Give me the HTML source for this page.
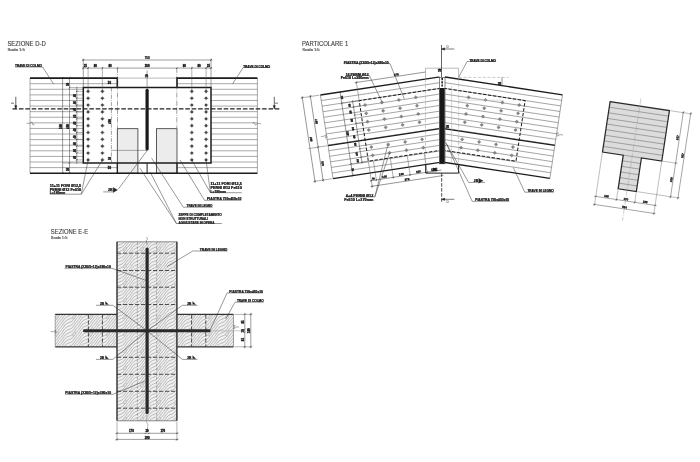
<!DOCTYPE html>
<html lang="it"><head><meta charset="utf-8"><title>Particolari costruttivi - Sezione D-D, Sezione E-E, Particolare 1</title>
<style>
html,body{margin:0;padding:0;background:#fff;}
body{width:700px;height:462px;overflow:hidden;font-family:"Liberation Sans",sans-serif;}
svg{display:block;filter:blur(0.45px);}
svg text{font-family:"Liberation Sans",sans-serif;}
</style></head><body>
<svg width="700" height="462" viewBox="0 0 700 462">
<defs>
<pattern id="wood" width="17" height="17" patternUnits="userSpaceOnUse" patternTransform="translate(1,3)">
<rect width="17" height="17" fill="#f0f0f0"/>
<g fill="none" stroke="#959595" stroke-width="0.62">
<path d="M0,-6.800 C5,-8.300 5,-11.800 8.5,-15.300 S12,-22.300 17,-23.800"/>
<path d="M0,-3.400 C5,-4.900 5,-8.400 8.5,-11.900 S12,-18.900 17,-20.400"/>
<path d="M0,0.000 C5,-1.500 5,-5.000 8.5,-8.500 S12,-15.500 17,-17.000"/>
<path d="M0,3.400 C5,1.900 5,-1.600 8.5,-5.100 S12,-12.100 17,-13.600"/>
<path d="M0,6.800 C5,5.300 5,1.800 8.5,-1.700 S12,-8.700 17,-10.200"/>
<path d="M0,10.200 C5,8.700 5,5.200 8.5,1.700 S12,-5.300 17,-6.800"/>
<path d="M0,13.600 C5,12.100 5,8.600 8.5,5.100 S12,-1.900 17,-3.400"/>
<path d="M0,17.000 C5,15.500 5,12.000 8.5,8.500 S12,1.500 17,0.000"/>
<path d="M0,20.400 C5,18.900 5,15.400 8.5,11.900 S12,4.900 17,3.400"/>
<path d="M0,23.800 C5,22.300 5,18.800 8.5,15.300 S12,8.300 17,6.800"/>
<path d="M0,27.200 C5,25.700 5,22.200 8.5,18.700 S12,11.700 17,10.200"/>
<path d="M0,30.600 C5,29.100 5,25.600 8.5,22.100 S12,15.100 17,13.600"/>
<path d="M0,34.000 C5,32.500 5,29.000 8.5,25.500 S12,18.500 17,17.000"/>
<path d="M0,37.400 C5,35.900 5,32.400 8.5,28.900 S12,21.900 17,20.400"/>
<path d="M0,40.800 C5,39.300 5,35.800 8.5,32.300 S12,25.300 17,23.800"/>
</g>
<ellipse cx="5" cy="8" rx="1.3" ry="2.4" transform="rotate(35 5 8)" fill="#dcdcdc" stroke="#aaa" stroke-width="0.4"/>
</pattern>
</defs>
<rect width="700" height="462" fill="#fff"/>

<g id="sezione-dd">
<text transform="translate(7.40,45.60) scale(0.1)" font-size="64.0" text-anchor="start" font-weight="normal" fill="#3c3c3c" stroke="#3c3c3c" stroke-width="1.2" textLength="384.0" lengthAdjust="spacingAndGlyphs">SEZIONE D-D</text>
<text transform="translate(7.40,51.30) scale(0.1)" font-size="41.0" text-anchor="start" font-weight="normal" fill="#444" stroke="#444" stroke-width="1.6" textLength="174.0" lengthAdjust="spacingAndGlyphs">Scala 1:5</text>
<line x1="30.00" y1="83.69" x2="117.30" y2="83.69" stroke="#555" stroke-width="0.5" />
<line x1="177.00" y1="83.69" x2="257.40" y2="83.69" stroke="#555" stroke-width="0.5" />
<line x1="30.00" y1="89.29" x2="83.30" y2="89.29" stroke="#555" stroke-width="0.5" />
<line x1="211.00" y1="89.29" x2="257.40" y2="89.29" stroke="#555" stroke-width="0.5" />
<line x1="30.00" y1="94.88" x2="83.30" y2="94.88" stroke="#555" stroke-width="0.5" />
<line x1="211.00" y1="94.88" x2="257.40" y2="94.88" stroke="#555" stroke-width="0.5" />
<line x1="30.00" y1="100.48" x2="83.30" y2="100.48" stroke="#555" stroke-width="0.5" />
<line x1="211.00" y1="100.48" x2="257.40" y2="100.48" stroke="#555" stroke-width="0.5" />
<line x1="30.00" y1="106.07" x2="83.30" y2="106.07" stroke="#555" stroke-width="0.5" />
<line x1="211.00" y1="106.07" x2="257.40" y2="106.07" stroke="#555" stroke-width="0.5" />
<line x1="30.00" y1="111.66" x2="83.30" y2="111.66" stroke="#555" stroke-width="0.5" />
<line x1="211.00" y1="111.66" x2="257.40" y2="111.66" stroke="#555" stroke-width="0.5" />
<line x1="30.00" y1="117.26" x2="83.30" y2="117.26" stroke="#555" stroke-width="0.5" />
<line x1="211.00" y1="117.26" x2="257.40" y2="117.26" stroke="#555" stroke-width="0.5" />
<line x1="30.00" y1="122.85" x2="83.30" y2="122.85" stroke="#555" stroke-width="0.5" />
<line x1="211.00" y1="122.85" x2="257.40" y2="122.85" stroke="#555" stroke-width="0.5" />
<line x1="30.00" y1="128.45" x2="83.30" y2="128.45" stroke="#555" stroke-width="0.5" />
<line x1="211.00" y1="128.45" x2="257.40" y2="128.45" stroke="#555" stroke-width="0.5" />
<line x1="30.00" y1="134.04" x2="83.30" y2="134.04" stroke="#555" stroke-width="0.5" />
<line x1="211.00" y1="134.04" x2="257.40" y2="134.04" stroke="#555" stroke-width="0.5" />
<line x1="30.00" y1="139.64" x2="83.30" y2="139.64" stroke="#555" stroke-width="0.5" />
<line x1="211.00" y1="139.64" x2="257.40" y2="139.64" stroke="#555" stroke-width="0.5" />
<line x1="30.00" y1="145.23" x2="83.30" y2="145.23" stroke="#555" stroke-width="0.5" />
<line x1="211.00" y1="145.23" x2="257.40" y2="145.23" stroke="#555" stroke-width="0.5" />
<line x1="30.00" y1="150.82" x2="83.30" y2="150.82" stroke="#555" stroke-width="0.5" />
<line x1="211.00" y1="150.82" x2="257.40" y2="150.82" stroke="#555" stroke-width="0.5" />
<line x1="30.00" y1="156.42" x2="83.30" y2="156.42" stroke="#555" stroke-width="0.5" />
<line x1="211.00" y1="156.42" x2="257.40" y2="156.42" stroke="#555" stroke-width="0.5" />
<line x1="30.00" y1="162.01" x2="83.30" y2="162.01" stroke="#555" stroke-width="0.5" />
<line x1="211.00" y1="162.01" x2="257.40" y2="162.01" stroke="#555" stroke-width="0.5" />
<line x1="30.00" y1="167.61" x2="117.30" y2="167.61" stroke="#555" stroke-width="0.5" />
<line x1="177.00" y1="167.61" x2="257.40" y2="167.61" stroke="#555" stroke-width="0.5" />
<line x1="117.30" y1="78.10" x2="177.00" y2="78.10" stroke="#777" stroke-width="0.5" />
<line x1="30.00" y1="78.10" x2="30.00" y2="173.20" stroke="#555" stroke-width="0.5" />
<line x1="257.40" y1="78.10" x2="257.40" y2="173.20" stroke="#555" stroke-width="0.5" />
<rect x="117.3" y="128.7" width="20.6" height="44.5" fill="#ececec" stroke="#333" stroke-width="0.8"/>
<rect x="156.4" y="128.7" width="20.6" height="44.5" fill="#ececec" stroke="#333" stroke-width="0.8"/>
<polyline points="30.00,78.10 117.30,78.10 117.30,87.60" fill="none" stroke="#1c1c1c" stroke-width="1.6" />
<polyline points="257.40,78.10 177.00,78.10 177.00,87.60" fill="none" stroke="#1c1c1c" stroke-width="1.6" />
<polygon points="83.30,163.00 83.30,87.60 211.00,87.60 211.00,163.00 83.30,163.00" fill="none" stroke="#1c1c1c" stroke-width="1.5" />
<line x1="30.00" y1="173.20" x2="257.40" y2="173.20" stroke="#1c1c1c" stroke-width="1.5" />
<line x1="117.30" y1="163.00" x2="117.30" y2="173.20" stroke="#1c1c1c" stroke-width="1.2" />
<line x1="177.00" y1="163.00" x2="177.00" y2="173.20" stroke="#1c1c1c" stroke-width="1.2" />
<line x1="147.10" y1="163.00" x2="147.10" y2="173.20" stroke="#1c1c1c" stroke-width="1.0" />
<rect x="145.50" y="88.8" width="3.2" height="61.8" rx="1.5" fill="#1a1a1a"/>
<line x1="111.40" y1="150.40" x2="147.10" y2="150.40" stroke="#555" stroke-width="0.5" />
<line x1="111.40" y1="87.60" x2="111.40" y2="163.00" stroke="#444" stroke-width="0.5" stroke-dasharray="4 1.2 0.8 1.2"/>
<line x1="117.50" y1="68.00" x2="117.50" y2="128.00" stroke="#444" stroke-width="0.5" stroke-dasharray="5 1.2 0.8 1.2"/>
<line x1="176.80" y1="68.00" x2="176.80" y2="128.00" stroke="#444" stroke-width="0.5" stroke-dasharray="5 1.2 0.8 1.2"/>
<line x1="12.50" y1="108.90" x2="279.30" y2="108.90" stroke="#222" stroke-width="1.25" stroke-dasharray="4.6 1.8"/>
<circle cx="88.10" cy="91.40" r="1.35" fill="#484848"/>
<line x1="85.85" y1="91.40" x2="90.35" y2="91.40" stroke="#484848" stroke-width="0.4" />
<line x1="88.10" y1="89.15" x2="88.10" y2="93.65" stroke="#484848" stroke-width="0.4" />
<circle cx="88.10" cy="98.25" r="1.35" fill="#484848"/>
<line x1="85.85" y1="98.25" x2="90.35" y2="98.25" stroke="#484848" stroke-width="0.4" />
<line x1="88.10" y1="96.00" x2="88.10" y2="100.50" stroke="#484848" stroke-width="0.4" />
<circle cx="88.10" cy="105.10" r="1.35" fill="#484848"/>
<line x1="85.85" y1="105.10" x2="90.35" y2="105.10" stroke="#484848" stroke-width="0.4" />
<line x1="88.10" y1="102.85" x2="88.10" y2="107.35" stroke="#484848" stroke-width="0.4" />
<circle cx="88.10" cy="111.95" r="1.35" fill="#484848"/>
<line x1="85.85" y1="111.95" x2="90.35" y2="111.95" stroke="#484848" stroke-width="0.4" />
<line x1="88.10" y1="109.70" x2="88.10" y2="114.20" stroke="#484848" stroke-width="0.4" />
<circle cx="88.10" cy="118.80" r="1.35" fill="#484848"/>
<line x1="85.85" y1="118.80" x2="90.35" y2="118.80" stroke="#484848" stroke-width="0.4" />
<line x1="88.10" y1="116.55" x2="88.10" y2="121.05" stroke="#484848" stroke-width="0.4" />
<circle cx="88.10" cy="125.65" r="1.35" fill="#484848"/>
<line x1="85.85" y1="125.65" x2="90.35" y2="125.65" stroke="#484848" stroke-width="0.4" />
<line x1="88.10" y1="123.40" x2="88.10" y2="127.90" stroke="#484848" stroke-width="0.4" />
<circle cx="88.10" cy="132.50" r="1.35" fill="#484848"/>
<line x1="85.85" y1="132.50" x2="90.35" y2="132.50" stroke="#484848" stroke-width="0.4" />
<line x1="88.10" y1="130.25" x2="88.10" y2="134.75" stroke="#484848" stroke-width="0.4" />
<circle cx="88.10" cy="139.35" r="1.35" fill="#484848"/>
<line x1="85.85" y1="139.35" x2="90.35" y2="139.35" stroke="#484848" stroke-width="0.4" />
<line x1="88.10" y1="137.10" x2="88.10" y2="141.60" stroke="#484848" stroke-width="0.4" />
<circle cx="88.10" cy="146.20" r="1.35" fill="#484848"/>
<line x1="85.85" y1="146.20" x2="90.35" y2="146.20" stroke="#484848" stroke-width="0.4" />
<line x1="88.10" y1="143.95" x2="88.10" y2="148.45" stroke="#484848" stroke-width="0.4" />
<circle cx="88.10" cy="153.05" r="1.35" fill="#484848"/>
<line x1="85.85" y1="153.05" x2="90.35" y2="153.05" stroke="#484848" stroke-width="0.4" />
<line x1="88.10" y1="150.80" x2="88.10" y2="155.30" stroke="#484848" stroke-width="0.4" />
<circle cx="88.10" cy="159.90" r="1.35" fill="#484848"/>
<line x1="85.85" y1="159.90" x2="90.35" y2="159.90" stroke="#484848" stroke-width="0.4" />
<line x1="88.10" y1="157.65" x2="88.10" y2="162.15" stroke="#484848" stroke-width="0.4" />
<circle cx="102.40" cy="91.40" r="1.35" fill="#484848"/>
<line x1="100.15" y1="91.40" x2="104.65" y2="91.40" stroke="#484848" stroke-width="0.4" />
<line x1="102.40" y1="89.15" x2="102.40" y2="93.65" stroke="#484848" stroke-width="0.4" />
<circle cx="102.40" cy="98.25" r="1.35" fill="#484848"/>
<line x1="100.15" y1="98.25" x2="104.65" y2="98.25" stroke="#484848" stroke-width="0.4" />
<line x1="102.40" y1="96.00" x2="102.40" y2="100.50" stroke="#484848" stroke-width="0.4" />
<circle cx="102.40" cy="105.10" r="1.35" fill="#484848"/>
<line x1="100.15" y1="105.10" x2="104.65" y2="105.10" stroke="#484848" stroke-width="0.4" />
<line x1="102.40" y1="102.85" x2="102.40" y2="107.35" stroke="#484848" stroke-width="0.4" />
<circle cx="102.40" cy="111.95" r="1.35" fill="#484848"/>
<line x1="100.15" y1="111.95" x2="104.65" y2="111.95" stroke="#484848" stroke-width="0.4" />
<line x1="102.40" y1="109.70" x2="102.40" y2="114.20" stroke="#484848" stroke-width="0.4" />
<circle cx="102.40" cy="118.80" r="1.35" fill="#484848"/>
<line x1="100.15" y1="118.80" x2="104.65" y2="118.80" stroke="#484848" stroke-width="0.4" />
<line x1="102.40" y1="116.55" x2="102.40" y2="121.05" stroke="#484848" stroke-width="0.4" />
<circle cx="102.40" cy="125.65" r="1.35" fill="#484848"/>
<line x1="100.15" y1="125.65" x2="104.65" y2="125.65" stroke="#484848" stroke-width="0.4" />
<line x1="102.40" y1="123.40" x2="102.40" y2="127.90" stroke="#484848" stroke-width="0.4" />
<circle cx="102.40" cy="132.50" r="1.35" fill="#484848"/>
<line x1="100.15" y1="132.50" x2="104.65" y2="132.50" stroke="#484848" stroke-width="0.4" />
<line x1="102.40" y1="130.25" x2="102.40" y2="134.75" stroke="#484848" stroke-width="0.4" />
<circle cx="102.40" cy="139.35" r="1.35" fill="#484848"/>
<line x1="100.15" y1="139.35" x2="104.65" y2="139.35" stroke="#484848" stroke-width="0.4" />
<line x1="102.40" y1="137.10" x2="102.40" y2="141.60" stroke="#484848" stroke-width="0.4" />
<circle cx="102.40" cy="146.20" r="1.35" fill="#484848"/>
<line x1="100.15" y1="146.20" x2="104.65" y2="146.20" stroke="#484848" stroke-width="0.4" />
<line x1="102.40" y1="143.95" x2="102.40" y2="148.45" stroke="#484848" stroke-width="0.4" />
<circle cx="102.40" cy="153.05" r="1.35" fill="#484848"/>
<line x1="100.15" y1="153.05" x2="104.65" y2="153.05" stroke="#484848" stroke-width="0.4" />
<line x1="102.40" y1="150.80" x2="102.40" y2="155.30" stroke="#484848" stroke-width="0.4" />
<circle cx="102.40" cy="159.90" r="1.35" fill="#484848"/>
<line x1="100.15" y1="159.90" x2="104.65" y2="159.90" stroke="#484848" stroke-width="0.4" />
<line x1="102.40" y1="157.65" x2="102.40" y2="162.15" stroke="#484848" stroke-width="0.4" />
<circle cx="191.80" cy="91.40" r="1.35" fill="#484848"/>
<line x1="189.55" y1="91.40" x2="194.05" y2="91.40" stroke="#484848" stroke-width="0.4" />
<line x1="191.80" y1="89.15" x2="191.80" y2="93.65" stroke="#484848" stroke-width="0.4" />
<circle cx="191.80" cy="98.25" r="1.35" fill="#484848"/>
<line x1="189.55" y1="98.25" x2="194.05" y2="98.25" stroke="#484848" stroke-width="0.4" />
<line x1="191.80" y1="96.00" x2="191.80" y2="100.50" stroke="#484848" stroke-width="0.4" />
<circle cx="191.80" cy="105.10" r="1.35" fill="#484848"/>
<line x1="189.55" y1="105.10" x2="194.05" y2="105.10" stroke="#484848" stroke-width="0.4" />
<line x1="191.80" y1="102.85" x2="191.80" y2="107.35" stroke="#484848" stroke-width="0.4" />
<circle cx="191.80" cy="111.95" r="1.35" fill="#484848"/>
<line x1="189.55" y1="111.95" x2="194.05" y2="111.95" stroke="#484848" stroke-width="0.4" />
<line x1="191.80" y1="109.70" x2="191.80" y2="114.20" stroke="#484848" stroke-width="0.4" />
<circle cx="191.80" cy="118.80" r="1.35" fill="#484848"/>
<line x1="189.55" y1="118.80" x2="194.05" y2="118.80" stroke="#484848" stroke-width="0.4" />
<line x1="191.80" y1="116.55" x2="191.80" y2="121.05" stroke="#484848" stroke-width="0.4" />
<circle cx="191.80" cy="125.65" r="1.35" fill="#484848"/>
<line x1="189.55" y1="125.65" x2="194.05" y2="125.65" stroke="#484848" stroke-width="0.4" />
<line x1="191.80" y1="123.40" x2="191.80" y2="127.90" stroke="#484848" stroke-width="0.4" />
<circle cx="191.80" cy="132.50" r="1.35" fill="#484848"/>
<line x1="189.55" y1="132.50" x2="194.05" y2="132.50" stroke="#484848" stroke-width="0.4" />
<line x1="191.80" y1="130.25" x2="191.80" y2="134.75" stroke="#484848" stroke-width="0.4" />
<circle cx="191.80" cy="139.35" r="1.35" fill="#484848"/>
<line x1="189.55" y1="139.35" x2="194.05" y2="139.35" stroke="#484848" stroke-width="0.4" />
<line x1="191.80" y1="137.10" x2="191.80" y2="141.60" stroke="#484848" stroke-width="0.4" />
<circle cx="191.80" cy="146.20" r="1.35" fill="#484848"/>
<line x1="189.55" y1="146.20" x2="194.05" y2="146.20" stroke="#484848" stroke-width="0.4" />
<line x1="191.80" y1="143.95" x2="191.80" y2="148.45" stroke="#484848" stroke-width="0.4" />
<circle cx="191.80" cy="153.05" r="1.35" fill="#484848"/>
<line x1="189.55" y1="153.05" x2="194.05" y2="153.05" stroke="#484848" stroke-width="0.4" />
<line x1="191.80" y1="150.80" x2="191.80" y2="155.30" stroke="#484848" stroke-width="0.4" />
<circle cx="191.80" cy="159.90" r="1.35" fill="#484848"/>
<line x1="189.55" y1="159.90" x2="194.05" y2="159.90" stroke="#484848" stroke-width="0.4" />
<line x1="191.80" y1="157.65" x2="191.80" y2="162.15" stroke="#484848" stroke-width="0.4" />
<circle cx="206.10" cy="91.40" r="1.35" fill="#484848"/>
<line x1="203.85" y1="91.40" x2="208.35" y2="91.40" stroke="#484848" stroke-width="0.4" />
<line x1="206.10" y1="89.15" x2="206.10" y2="93.65" stroke="#484848" stroke-width="0.4" />
<circle cx="206.10" cy="98.25" r="1.35" fill="#484848"/>
<line x1="203.85" y1="98.25" x2="208.35" y2="98.25" stroke="#484848" stroke-width="0.4" />
<line x1="206.10" y1="96.00" x2="206.10" y2="100.50" stroke="#484848" stroke-width="0.4" />
<circle cx="206.10" cy="105.10" r="1.35" fill="#484848"/>
<line x1="203.85" y1="105.10" x2="208.35" y2="105.10" stroke="#484848" stroke-width="0.4" />
<line x1="206.10" y1="102.85" x2="206.10" y2="107.35" stroke="#484848" stroke-width="0.4" />
<circle cx="206.10" cy="111.95" r="1.35" fill="#484848"/>
<line x1="203.85" y1="111.95" x2="208.35" y2="111.95" stroke="#484848" stroke-width="0.4" />
<line x1="206.10" y1="109.70" x2="206.10" y2="114.20" stroke="#484848" stroke-width="0.4" />
<circle cx="206.10" cy="118.80" r="1.35" fill="#484848"/>
<line x1="203.85" y1="118.80" x2="208.35" y2="118.80" stroke="#484848" stroke-width="0.4" />
<line x1="206.10" y1="116.55" x2="206.10" y2="121.05" stroke="#484848" stroke-width="0.4" />
<circle cx="206.10" cy="125.65" r="1.35" fill="#484848"/>
<line x1="203.85" y1="125.65" x2="208.35" y2="125.65" stroke="#484848" stroke-width="0.4" />
<line x1="206.10" y1="123.40" x2="206.10" y2="127.90" stroke="#484848" stroke-width="0.4" />
<circle cx="206.10" cy="132.50" r="1.35" fill="#484848"/>
<line x1="203.85" y1="132.50" x2="208.35" y2="132.50" stroke="#484848" stroke-width="0.4" />
<line x1="206.10" y1="130.25" x2="206.10" y2="134.75" stroke="#484848" stroke-width="0.4" />
<circle cx="206.10" cy="139.35" r="1.35" fill="#484848"/>
<line x1="203.85" y1="139.35" x2="208.35" y2="139.35" stroke="#484848" stroke-width="0.4" />
<line x1="206.10" y1="137.10" x2="206.10" y2="141.60" stroke="#484848" stroke-width="0.4" />
<circle cx="206.10" cy="146.20" r="1.35" fill="#484848"/>
<line x1="203.85" y1="146.20" x2="208.35" y2="146.20" stroke="#484848" stroke-width="0.4" />
<line x1="206.10" y1="143.95" x2="206.10" y2="148.45" stroke="#484848" stroke-width="0.4" />
<circle cx="206.10" cy="153.05" r="1.35" fill="#484848"/>
<line x1="203.85" y1="153.05" x2="208.35" y2="153.05" stroke="#484848" stroke-width="0.4" />
<line x1="206.10" y1="150.80" x2="206.10" y2="155.30" stroke="#484848" stroke-width="0.4" />
<circle cx="206.10" cy="159.90" r="1.35" fill="#484848"/>
<line x1="203.85" y1="159.90" x2="208.35" y2="159.90" stroke="#484848" stroke-width="0.4" />
<line x1="206.10" y1="157.65" x2="206.10" y2="162.15" stroke="#484848" stroke-width="0.4" />
<line x1="82.00" y1="60.00" x2="212.30" y2="60.00" stroke="#3a3a3a" stroke-width="0.5" />
<line x1="82.00" y1="68.10" x2="212.30" y2="68.10" stroke="#3a3a3a" stroke-width="0.5" />
<line x1="83.30" y1="58.60" x2="83.30" y2="87.00" stroke="#3a3a3a" stroke-width="0.5" />
<line x1="82.45" y1="60.85" x2="84.15" y2="59.15" stroke="#222" stroke-width="0.6" />
<line x1="82.45" y1="68.95" x2="84.15" y2="67.25" stroke="#222" stroke-width="0.6" />
<line x1="211.00" y1="58.60" x2="211.00" y2="87.00" stroke="#3a3a3a" stroke-width="0.5" />
<line x1="210.15" y1="60.85" x2="211.85" y2="59.15" stroke="#222" stroke-width="0.6" />
<line x1="210.15" y1="68.95" x2="211.85" y2="67.25" stroke="#222" stroke-width="0.6" />
<line x1="88.10" y1="66.80" x2="88.10" y2="90.00" stroke="#555" stroke-width="0.45" />
<line x1="87.25" y1="68.95" x2="88.95" y2="67.25" stroke="#222" stroke-width="0.6" />
<line x1="102.40" y1="66.80" x2="102.40" y2="90.00" stroke="#555" stroke-width="0.45" />
<line x1="101.55" y1="68.95" x2="103.25" y2="67.25" stroke="#222" stroke-width="0.6" />
<line x1="191.80" y1="66.80" x2="191.80" y2="90.00" stroke="#555" stroke-width="0.45" />
<line x1="190.95" y1="68.95" x2="192.65" y2="67.25" stroke="#222" stroke-width="0.6" />
<line x1="206.10" y1="66.80" x2="206.10" y2="90.00" stroke="#555" stroke-width="0.45" />
<line x1="205.25" y1="68.95" x2="206.95" y2="67.25" stroke="#222" stroke-width="0.6" />
<line x1="116.65" y1="68.95" x2="118.35" y2="67.25" stroke="#222" stroke-width="0.6" />
<line x1="175.95" y1="68.95" x2="177.65" y2="67.25" stroke="#222" stroke-width="0.6" />
<line x1="147.10" y1="70.50" x2="147.10" y2="89.00" stroke="#444" stroke-width="0.5" />
<text transform="translate(147.10,59.35) scale(0.1)" font-size="29.5" text-anchor="middle" font-weight="bold" fill="#111" stroke="#111" stroke-width="2.2">750</text>
<text transform="translate(85.60,67.10) scale(0.1)" font-size="27.0" text-anchor="middle" font-weight="bold" fill="#111" stroke="#111" stroke-width="3.0">25</text>
<text transform="translate(95.30,67.10) scale(0.1)" font-size="29.0" text-anchor="middle" font-weight="bold" fill="#111" stroke="#111" stroke-width="3.0">80</text>
<text transform="translate(110.00,67.10) scale(0.1)" font-size="29.0" text-anchor="middle" font-weight="bold" fill="#111" stroke="#111" stroke-width="3.0">80</text>
<text transform="translate(147.10,67.10) scale(0.1)" font-size="29.0" text-anchor="middle" font-weight="bold" fill="#111" stroke="#111" stroke-width="3.0">300</text>
<text transform="translate(184.30,67.10) scale(0.1)" font-size="29.0" text-anchor="middle" font-weight="bold" fill="#111" stroke="#111" stroke-width="3.0">80</text>
<text transform="translate(199.00,67.10) scale(0.1)" font-size="29.0" text-anchor="middle" font-weight="bold" fill="#111" stroke="#111" stroke-width="3.0">80</text>
<text transform="translate(208.60,67.10) scale(0.1)" font-size="27.0" text-anchor="middle" font-weight="bold" fill="#111" stroke="#111" stroke-width="3.0">25</text>
<text transform="translate(148.00,76.00) rotate(-90.00) scale(0.1)" font-size="29.0" text-anchor="middle" font-weight="bold" fill="#111" stroke="#111" stroke-width="3.0">10</text>
<line x1="62.60" y1="77.10" x2="62.60" y2="174.20" stroke="#3a3a3a" stroke-width="0.5" />
<line x1="69.50" y1="77.10" x2="69.50" y2="174.20" stroke="#3a3a3a" stroke-width="0.5" />
<line x1="76.80" y1="86.60" x2="76.80" y2="164.00" stroke="#3a3a3a" stroke-width="0.5" />
<line x1="61.75" y1="78.95" x2="63.45" y2="77.25" stroke="#222" stroke-width="0.6" />
<line x1="61.75" y1="174.05" x2="63.45" y2="172.35" stroke="#222" stroke-width="0.6" />
<line x1="68.65" y1="78.95" x2="70.35" y2="77.25" stroke="#222" stroke-width="0.6" />
<line x1="68.65" y1="88.45" x2="70.35" y2="86.75" stroke="#222" stroke-width="0.6" />
<line x1="68.65" y1="163.85" x2="70.35" y2="162.15" stroke="#222" stroke-width="0.6" />
<line x1="68.65" y1="174.05" x2="70.35" y2="172.35" stroke="#222" stroke-width="0.6" />
<line x1="69.50" y1="87.60" x2="83.30" y2="87.60" stroke="#555" stroke-width="0.45" />
<line x1="62.60" y1="163.00" x2="83.30" y2="163.00" stroke="#555" stroke-width="0.45" />
<line x1="76.00" y1="91.40" x2="83.30" y2="91.40" stroke="#555" stroke-width="0.45" />
<line x1="76.16" y1="92.04" x2="77.44" y2="90.76" stroke="#222" stroke-width="0.6" />
<line x1="76.00" y1="98.25" x2="83.30" y2="98.25" stroke="#555" stroke-width="0.45" />
<line x1="76.16" y1="98.89" x2="77.44" y2="97.61" stroke="#222" stroke-width="0.6" />
<line x1="76.00" y1="105.10" x2="83.30" y2="105.10" stroke="#555" stroke-width="0.45" />
<line x1="76.16" y1="105.74" x2="77.44" y2="104.46" stroke="#222" stroke-width="0.6" />
<line x1="76.00" y1="111.95" x2="83.30" y2="111.95" stroke="#555" stroke-width="0.45" />
<line x1="76.16" y1="112.59" x2="77.44" y2="111.31" stroke="#222" stroke-width="0.6" />
<line x1="76.00" y1="118.80" x2="83.30" y2="118.80" stroke="#555" stroke-width="0.45" />
<line x1="76.16" y1="119.44" x2="77.44" y2="118.16" stroke="#222" stroke-width="0.6" />
<line x1="76.00" y1="125.65" x2="83.30" y2="125.65" stroke="#555" stroke-width="0.45" />
<line x1="76.16" y1="126.29" x2="77.44" y2="125.01" stroke="#222" stroke-width="0.6" />
<line x1="76.00" y1="132.50" x2="83.30" y2="132.50" stroke="#555" stroke-width="0.45" />
<line x1="76.16" y1="133.14" x2="77.44" y2="131.86" stroke="#222" stroke-width="0.6" />
<line x1="76.00" y1="139.35" x2="83.30" y2="139.35" stroke="#555" stroke-width="0.45" />
<line x1="76.16" y1="139.99" x2="77.44" y2="138.71" stroke="#222" stroke-width="0.6" />
<line x1="76.00" y1="146.20" x2="83.30" y2="146.20" stroke="#555" stroke-width="0.45" />
<line x1="76.16" y1="146.84" x2="77.44" y2="145.56" stroke="#222" stroke-width="0.6" />
<line x1="76.00" y1="153.05" x2="83.30" y2="153.05" stroke="#555" stroke-width="0.45" />
<line x1="76.16" y1="153.69" x2="77.44" y2="152.41" stroke="#222" stroke-width="0.6" />
<line x1="76.00" y1="159.90" x2="83.30" y2="159.90" stroke="#555" stroke-width="0.45" />
<line x1="76.16" y1="160.54" x2="77.44" y2="159.26" stroke="#222" stroke-width="0.6" />
<text transform="translate(76.20,95.80) rotate(-90.00) scale(0.1)" font-size="28.0" text-anchor="middle" font-weight="bold" fill="#111" stroke="#111" stroke-width="3.0">40</text>
<text transform="translate(76.20,102.65) rotate(-90.00) scale(0.1)" font-size="28.0" text-anchor="middle" font-weight="bold" fill="#111" stroke="#111" stroke-width="3.0">40</text>
<text transform="translate(76.20,109.50) rotate(-90.00) scale(0.1)" font-size="28.0" text-anchor="middle" font-weight="bold" fill="#111" stroke="#111" stroke-width="3.0">40</text>
<text transform="translate(76.20,116.35) rotate(-90.00) scale(0.1)" font-size="28.0" text-anchor="middle" font-weight="bold" fill="#111" stroke="#111" stroke-width="3.0">40</text>
<text transform="translate(76.20,123.20) rotate(-90.00) scale(0.1)" font-size="28.0" text-anchor="middle" font-weight="bold" fill="#111" stroke="#111" stroke-width="3.0">40</text>
<text transform="translate(76.20,130.05) rotate(-90.00) scale(0.1)" font-size="28.0" text-anchor="middle" font-weight="bold" fill="#111" stroke="#111" stroke-width="3.0">40</text>
<text transform="translate(76.20,136.90) rotate(-90.00) scale(0.1)" font-size="28.0" text-anchor="middle" font-weight="bold" fill="#111" stroke="#111" stroke-width="3.0">40</text>
<text transform="translate(76.20,143.75) rotate(-90.00) scale(0.1)" font-size="28.0" text-anchor="middle" font-weight="bold" fill="#111" stroke="#111" stroke-width="3.0">40</text>
<text transform="translate(76.20,150.60) rotate(-90.00) scale(0.1)" font-size="28.0" text-anchor="middle" font-weight="bold" fill="#111" stroke="#111" stroke-width="3.0">40</text>
<text transform="translate(76.20,157.45) rotate(-90.00) scale(0.1)" font-size="28.0" text-anchor="middle" font-weight="bold" fill="#111" stroke="#111" stroke-width="3.0">40</text>
<text transform="translate(68.90,84.40) rotate(-90.00) scale(0.1)" font-size="29.0" text-anchor="middle" font-weight="bold" fill="#111" stroke="#111" stroke-width="3.0">50</text>
<text transform="translate(68.90,169.50) rotate(-90.00) scale(0.1)" font-size="29.0" text-anchor="middle" font-weight="bold" fill="#111" stroke="#111" stroke-width="3.0">50</text>
<text transform="translate(61.90,126.50) rotate(-90.00) scale(0.1)" font-size="29.0" text-anchor="middle" font-weight="bold" fill="#111" stroke="#111" stroke-width="3.0">500</text>
<text transform="translate(68.90,126.50) rotate(-90.00) scale(0.1)" font-size="29.0" text-anchor="middle" font-weight="bold" fill="#111" stroke="#111" stroke-width="3.0">400</text>
<text transform="translate(109.40,84.00) scale(0.1)" font-size="29.0" text-anchor="middle" font-weight="bold" fill="#111" stroke="#111" stroke-width="3.0">50</text>
<text transform="translate(109.40,169.00) scale(0.1)" font-size="29.0" text-anchor="middle" font-weight="bold" fill="#111" stroke="#111" stroke-width="3.0">50</text>
<text transform="translate(110.90,121.50) rotate(-90.00) scale(0.1)" font-size="29.0" text-anchor="middle" font-weight="bold" fill="#111" stroke="#111" stroke-width="3.0">400</text>
<text transform="translate(110.90,158.50) rotate(-90.00) scale(0.1)" font-size="27.0" text-anchor="middle" font-weight="bold" fill="#111" stroke="#111" stroke-width="3.0">50</text>
<line x1="15.80" y1="96.80" x2="15.80" y2="108.90" stroke="#222" stroke-width="0.7" />
<polygon points="14.60,105.60 17.00,105.60 15.80,108.90" fill="#222" stroke="#222" stroke-width="0.3" />
<line x1="274.30" y1="96.80" x2="274.30" y2="108.90" stroke="#222" stroke-width="0.7" />
<polygon points="273.10,105.60 275.50,105.60 274.30,108.90" fill="#222" stroke="#222" stroke-width="0.3" />
<text transform="translate(14.30,103.00) rotate(-90.00) scale(0.1)" font-size="30.0" text-anchor="middle" font-weight="normal" fill="#111">E</text>
<text transform="translate(278.00,103.00) rotate(-90.00) scale(0.1)" font-size="30.0" text-anchor="middle" font-weight="normal" fill="#111">E</text>
<polyline points="26.50,123.30 30.00,123.30 32.00,122.00 33.20,125.20 34.60,123.60" fill="none" stroke="#555" stroke-width="0.5" />
<polyline points="252.60,123.30 254.00,122.00 255.40,125.20 257.40,123.60 261.00,123.60" fill="none" stroke="#555" stroke-width="0.5" />
<text transform="translate(15.00,67.05) scale(0.1)" font-size="29.5" text-anchor="start" font-weight="bold" fill="#111" stroke="#111" stroke-width="2.2" textLength="270.0" lengthAdjust="spacingAndGlyphs">TRAVE DI COLMO</text>
<polyline points="15.00,67.00 42.60,67.00 53.60,84.00" fill="none" stroke="#333" stroke-width="0.5" />
<text transform="translate(243.20,67.55) scale(0.1)" font-size="29.5" text-anchor="start" font-weight="bold" fill="#111" stroke="#111" stroke-width="2.2" textLength="268.0" lengthAdjust="spacingAndGlyphs">TRAVE DI COLMO</text>
<polyline points="270.20,67.50 243.20,67.50 232.60,83.90" fill="none" stroke="#333" stroke-width="0.5" />
<text transform="translate(49.80,186.85) scale(0.1)" font-size="29.5" text-anchor="start" font-weight="bold" fill="#111" stroke="#111" stroke-width="2.2" textLength="314.0" lengthAdjust="spacingAndGlyphs">11+11 FORI &#216;12,5</text>
<text transform="translate(49.80,190.55) scale(0.1)" font-size="29.5" text-anchor="start" font-weight="bold" fill="#111" stroke="#111" stroke-width="2.2" textLength="314.0" lengthAdjust="spacingAndGlyphs">PERNI &#216;12 Fe510</text>
<text transform="translate(49.80,194.25) scale(0.1)" font-size="29.5" text-anchor="start" font-weight="bold" fill="#111" stroke="#111" stroke-width="2.2" textLength="155.0" lengthAdjust="spacingAndGlyphs">L=180mm</text>
<line x1="49.80" y1="194.20" x2="81.30" y2="194.20" stroke="#333" stroke-width="0.5" />
<line x1="81.30" y1="194.20" x2="88.10" y2="160.20" stroke="#333" stroke-width="0.5" />
<line x1="81.30" y1="194.20" x2="102.40" y2="160.20" stroke="#333" stroke-width="0.5" />
<text transform="translate(108.00,191.00) scale(0.1)" font-size="32.0" text-anchor="start" font-weight="bold" fill="#111" stroke="#111" stroke-width="2.2" textLength="46.0" lengthAdjust="spacingAndGlyphs">2B</text>
<line x1="103.20" y1="191.90" x2="113.60" y2="191.90" stroke="#333" stroke-width="0.5" />
<polygon points="113.20,187.40 117.60,189.90 113.20,192.40" fill="#222" stroke="#222" stroke-width="0.3" />
<line x1="118.40" y1="189.00" x2="147.10" y2="150.60" stroke="#333" stroke-width="0.5" />
<text transform="translate(210.40,185.35) scale(0.1)" font-size="29.5" text-anchor="start" font-weight="bold" fill="#111" stroke="#111" stroke-width="2.2" textLength="314.0" lengthAdjust="spacingAndGlyphs">11+11 FORI &#216;12,5</text>
<text transform="translate(210.40,189.05) scale(0.1)" font-size="29.5" text-anchor="start" font-weight="bold" fill="#111" stroke="#111" stroke-width="2.2" textLength="314.0" lengthAdjust="spacingAndGlyphs">PERNI &#216;12 Fe510</text>
<text transform="translate(210.40,192.75) scale(0.1)" font-size="29.5" text-anchor="start" font-weight="bold" fill="#111" stroke="#111" stroke-width="2.2" textLength="155.0" lengthAdjust="spacingAndGlyphs">L=180mm</text>
<line x1="210.40" y1="192.70" x2="241.80" y2="192.70" stroke="#333" stroke-width="0.5" />
<line x1="210.40" y1="192.70" x2="191.80" y2="160.20" stroke="#333" stroke-width="0.5" />
<line x1="210.40" y1="192.70" x2="206.10" y2="160.20" stroke="#333" stroke-width="0.5" />
<text transform="translate(207.00,200.35) scale(0.1)" font-size="29.5" text-anchor="start" font-weight="bold" fill="#111" stroke="#111" stroke-width="2.2" textLength="344.0" lengthAdjust="spacingAndGlyphs">PIASTRA 750x450x10</text>
<polyline points="241.40,200.30 204.50,200.30 180.00,160.00" fill="none" stroke="#333" stroke-width="0.5" />
<text transform="translate(186.50,207.25) scale(0.1)" font-size="29.5" text-anchor="start" font-weight="bold" fill="#111" stroke="#111" stroke-width="2.2" textLength="260.0" lengthAdjust="spacingAndGlyphs">TRAVE IN LEGNO</text>
<polyline points="212.60,207.20 183.30,207.20 151.60,158.20" fill="none" stroke="#333" stroke-width="0.5" />
<text transform="translate(178.50,216.15) scale(0.1)" font-size="29.5" text-anchor="start" font-weight="bold" fill="#111" stroke="#111" stroke-width="2.2" textLength="433.0" lengthAdjust="spacingAndGlyphs">ZEPPE DI COMPLETAMENTO</text>
<text transform="translate(178.50,219.85) scale(0.1)" font-size="29.5" text-anchor="start" font-weight="bold" fill="#111" stroke="#111" stroke-width="2.2" textLength="295.0" lengthAdjust="spacingAndGlyphs">NON STRUTTURALI</text>
<text transform="translate(178.50,223.55) scale(0.1)" font-size="29.5" text-anchor="start" font-weight="bold" fill="#111" stroke="#111" stroke-width="2.2" textLength="360.0" lengthAdjust="spacingAndGlyphs">AGGIUSTARE IN OPERA</text>
<line x1="176.40" y1="223.50" x2="221.90" y2="223.50" stroke="#333" stroke-width="0.5" />
<line x1="176.40" y1="223.50" x2="140.00" y2="168.30" stroke="#333" stroke-width="0.5" />
<line x1="176.40" y1="223.50" x2="150.20" y2="172.00" stroke="#333" stroke-width="0.5" />
</g>
<g id="sezione-ee">
<text transform="translate(50.80,234.00) scale(0.1)" font-size="64.0" text-anchor="start" font-weight="normal" fill="#3c3c3c" stroke="#3c3c3c" stroke-width="1.2" textLength="373.0" lengthAdjust="spacingAndGlyphs">SEZIONE E-E</text>
<text transform="translate(50.80,239.30) scale(0.1)" font-size="41.0" text-anchor="start" font-weight="normal" fill="#444" stroke="#444" stroke-width="1.6" textLength="166.0" lengthAdjust="spacingAndGlyphs">Scala 1:5</text>
<rect x="117.0" y="241.8" width="59.9" height="179.0" fill="url(#wood)"/>
<rect x="55.2" y="314.4" width="61.8" height="32.4" fill="url(#wood)"/>
<rect x="176.9" y="314.4" width="56.6" height="32.4" fill="url(#wood)"/>
<line x1="137.40" y1="241.80" x2="137.40" y2="420.80" stroke="#777" stroke-width="0.5" stroke-dasharray="3 1.5"/>
<line x1="156.60" y1="241.80" x2="156.60" y2="420.80" stroke="#777" stroke-width="0.5" stroke-dasharray="3 1.5"/>
<line x1="117.00" y1="253.20" x2="176.90" y2="253.20" stroke="#2a2a2a" stroke-width="0.8" stroke-dasharray="4.2 1.8"/>
<line x1="117.00" y1="270.50" x2="176.90" y2="270.50" stroke="#2a2a2a" stroke-width="0.8" stroke-dasharray="4.2 1.8"/>
<line x1="117.00" y1="287.20" x2="176.90" y2="287.20" stroke="#2a2a2a" stroke-width="0.8" stroke-dasharray="4.2 1.8"/>
<line x1="117.00" y1="304.50" x2="176.90" y2="304.50" stroke="#2a2a2a" stroke-width="0.8" stroke-dasharray="4.2 1.8"/>
<line x1="117.00" y1="357.30" x2="176.90" y2="357.30" stroke="#2a2a2a" stroke-width="0.8" stroke-dasharray="4.2 1.8"/>
<line x1="117.00" y1="374.30" x2="176.90" y2="374.30" stroke="#2a2a2a" stroke-width="0.8" stroke-dasharray="4.2 1.8"/>
<line x1="117.00" y1="391.30" x2="176.90" y2="391.30" stroke="#2a2a2a" stroke-width="0.8" stroke-dasharray="4.2 1.8"/>
<line x1="117.00" y1="408.20" x2="176.90" y2="408.20" stroke="#2a2a2a" stroke-width="0.8" stroke-dasharray="4.2 1.8"/>
<line x1="88.40" y1="314.40" x2="88.40" y2="346.80" stroke="#2a2a2a" stroke-width="0.8" stroke-dasharray="4.2 1.8"/>
<line x1="102.40" y1="314.40" x2="102.40" y2="346.80" stroke="#2a2a2a" stroke-width="0.8" stroke-dasharray="4.2 1.8"/>
<line x1="191.60" y1="314.40" x2="191.60" y2="346.80" stroke="#2a2a2a" stroke-width="0.8" stroke-dasharray="4.2 1.8"/>
<line x1="205.80" y1="314.40" x2="205.80" y2="346.80" stroke="#2a2a2a" stroke-width="0.8" stroke-dasharray="4.2 1.8"/>
<line x1="117.00" y1="241.80" x2="176.90" y2="241.80" stroke="#444" stroke-width="0.6" />
<line x1="117.00" y1="420.80" x2="176.90" y2="420.80" stroke="#444" stroke-width="0.6" />
<line x1="117.00" y1="241.80" x2="117.00" y2="420.80" stroke="#262626" stroke-width="1.35" />
<line x1="176.90" y1="241.80" x2="176.90" y2="420.80" stroke="#262626" stroke-width="1.35" />
<line x1="55.20" y1="314.40" x2="117.00" y2="314.40" stroke="#333" stroke-width="1.2" />
<line x1="55.20" y1="346.80" x2="117.00" y2="346.80" stroke="#333" stroke-width="1.2" />
<line x1="176.90" y1="314.40" x2="233.50" y2="314.40" stroke="#333" stroke-width="1.2" />
<line x1="176.90" y1="346.80" x2="233.50" y2="346.80" stroke="#333" stroke-width="1.2" />
<line x1="55.20" y1="314.40" x2="55.20" y2="346.80" stroke="#555" stroke-width="0.5" />
<line x1="233.50" y1="314.40" x2="233.50" y2="346.80" stroke="#555" stroke-width="0.5" />
<line x1="147.10" y1="330.80" x2="112.80" y2="305.30" stroke="#333" stroke-width="0.5" />
<line x1="96.00" y1="305.30" x2="112.80" y2="305.30" stroke="#333" stroke-width="0.5" />
<line x1="147.10" y1="330.80" x2="112.80" y2="359.40" stroke="#333" stroke-width="0.5" />
<line x1="96.00" y1="359.40" x2="112.80" y2="359.40" stroke="#333" stroke-width="0.5" />
<line x1="147.10" y1="330.80" x2="182.40" y2="305.30" stroke="#333" stroke-width="0.5" />
<line x1="182.40" y1="305.30" x2="197.40" y2="305.30" stroke="#333" stroke-width="0.5" />
<line x1="147.10" y1="330.80" x2="182.40" y2="359.40" stroke="#333" stroke-width="0.5" />
<line x1="182.40" y1="359.40" x2="197.40" y2="359.40" stroke="#333" stroke-width="0.5" />
<text transform="translate(100.00,304.50) scale(0.1)" font-size="31.0" text-anchor="start" font-weight="bold" fill="#111" stroke="#111" stroke-width="2.2" textLength="42.0" lengthAdjust="spacingAndGlyphs">2B</text>
<polygon points="105.40,301.40 105.40,304.60 108.60,304.60" fill="#222" stroke="#222" stroke-width="0.2" />
<text transform="translate(100.00,358.60) scale(0.1)" font-size="31.0" text-anchor="start" font-weight="bold" fill="#111" stroke="#111" stroke-width="2.2" textLength="42.0" lengthAdjust="spacingAndGlyphs">2B</text>
<polygon points="105.40,355.50 105.40,358.70 108.60,358.70" fill="#222" stroke="#222" stroke-width="0.2" />
<text transform="translate(187.20,304.50) scale(0.1)" font-size="31.0" text-anchor="start" font-weight="bold" fill="#111" stroke="#111" stroke-width="2.2" textLength="42.0" lengthAdjust="spacingAndGlyphs">2B</text>
<polygon points="192.60,301.40 192.60,304.60 195.80,304.60" fill="#222" stroke="#222" stroke-width="0.2" />
<text transform="translate(187.20,358.60) scale(0.1)" font-size="31.0" text-anchor="start" font-weight="bold" fill="#111" stroke="#111" stroke-width="2.2" textLength="42.0" lengthAdjust="spacingAndGlyphs">2B</text>
<polygon points="192.60,355.50 192.60,358.70 195.80,358.70" fill="#222" stroke="#222" stroke-width="0.2" />
<rect x="83.0" y="329.30" width="127.6" height="3.0" rx="1.4" fill="#2a2a2a"/>
<rect x="145.50" y="247.6" width="3.2" height="166.3" rx="1.5" fill="#2a2a2a"/>
<line x1="210.60" y1="330.80" x2="244.80" y2="330.80" stroke="#999" stroke-width="0.5" />
<polyline points="147.10,244.80 146.10,240.80 147.40,239.60 146.80,237.00" fill="none" stroke="#555" stroke-width="0.5" />
<polyline points="147.10,414.80 146.30,421.80 147.90,424.30 147.10,431.80" fill="none" stroke="#777" stroke-width="0.5" />
<polyline points="50.60,331.60 53.80,331.60 55.60,330.00 55.00,333.20 57.00,331.40" fill="none" stroke="#555" stroke-width="0.5" />
<polyline points="233.50,326.00 235.00,325.00 234.40,328.60 236.40,327.00 239.00,327.00" fill="none" stroke="#555" stroke-width="0.5" />
<line x1="244.80" y1="312.90" x2="244.80" y2="348.30" stroke="#3a3a3a" stroke-width="0.5" />
<line x1="250.80" y1="312.90" x2="250.80" y2="348.30" stroke="#3a3a3a" stroke-width="0.5" />
<line x1="234.50" y1="314.40" x2="252.30" y2="314.40" stroke="#555" stroke-width="0.45" />
<line x1="234.50" y1="346.80" x2="252.30" y2="346.80" stroke="#555" stroke-width="0.45" />
<line x1="243.95" y1="315.25" x2="245.65" y2="313.55" stroke="#222" stroke-width="0.6" />
<line x1="249.95" y1="315.25" x2="251.65" y2="313.55" stroke="#222" stroke-width="0.6" />
<line x1="243.95" y1="347.65" x2="245.65" y2="345.95" stroke="#222" stroke-width="0.6" />
<line x1="249.95" y1="347.65" x2="251.65" y2="345.95" stroke="#222" stroke-width="0.6" />
<line x1="244.16" y1="329.94" x2="245.44" y2="328.66" stroke="#222" stroke-width="0.6" />
<line x1="244.16" y1="332.94" x2="245.44" y2="331.66" stroke="#222" stroke-width="0.6" />
<text transform="translate(244.00,322.00) rotate(-90.00) scale(0.1)" font-size="29.0" text-anchor="middle" font-weight="bold" fill="#111" stroke="#111" stroke-width="3.0">85</text>
<text transform="translate(244.00,339.60) rotate(-90.00) scale(0.1)" font-size="29.0" text-anchor="middle" font-weight="bold" fill="#111" stroke="#111" stroke-width="3.0">85</text>
<text transform="translate(244.00,330.80) rotate(-90.00) scale(0.1)" font-size="29.0" text-anchor="middle" font-weight="bold" fill="#111" stroke="#111" stroke-width="3.0">10</text>
<text transform="translate(250.00,330.80) rotate(-90.00) scale(0.1)" font-size="29.0" text-anchor="middle" font-weight="bold" fill="#111" stroke="#111" stroke-width="3.0">180</text>
<line x1="115.50" y1="433.30" x2="178.40" y2="433.30" stroke="#3a3a3a" stroke-width="0.5" />
<line x1="115.50" y1="439.40" x2="178.40" y2="439.40" stroke="#3a3a3a" stroke-width="0.5" />
<line x1="117.00" y1="421.80" x2="117.00" y2="441.00" stroke="#555" stroke-width="0.45" />
<line x1="116.15" y1="434.15" x2="117.85" y2="432.45" stroke="#222" stroke-width="0.6" />
<line x1="116.15" y1="440.25" x2="117.85" y2="438.55" stroke="#222" stroke-width="0.6" />
<line x1="176.90" y1="421.80" x2="176.90" y2="441.00" stroke="#555" stroke-width="0.45" />
<line x1="176.05" y1="434.15" x2="177.75" y2="432.45" stroke="#222" stroke-width="0.6" />
<line x1="176.05" y1="440.25" x2="177.75" y2="438.55" stroke="#222" stroke-width="0.6" />
<line x1="144.76" y1="433.94" x2="146.04" y2="432.66" stroke="#222" stroke-width="0.6" />
<line x1="148.16" y1="433.94" x2="149.44" y2="432.66" stroke="#222" stroke-width="0.6" />
<text transform="translate(131.40,432.40) scale(0.1)" font-size="29.0" text-anchor="middle" font-weight="bold" fill="#111" stroke="#111" stroke-width="3.0">170</text>
<text transform="translate(147.10,432.40) scale(0.1)" font-size="27.0" text-anchor="middle" font-weight="bold" fill="#111" stroke="#111" stroke-width="3.0">30</text>
<text transform="translate(162.80,432.40) scale(0.1)" font-size="29.0" text-anchor="middle" font-weight="bold" fill="#111" stroke="#111" stroke-width="3.0">170</text>
<text transform="translate(147.10,438.50) scale(0.1)" font-size="29.0" text-anchor="middle" font-weight="bold" fill="#111" stroke="#111" stroke-width="3.0">390</text>
<text transform="translate(199.80,251.05) scale(0.1)" font-size="29.5" text-anchor="start" font-weight="bold" fill="#111" stroke="#111" stroke-width="2.2" textLength="276.0" lengthAdjust="spacingAndGlyphs">TRAVE IN LEGNO</text>
<polyline points="227.60,251.00 192.80,251.00 166.80,266.60" fill="none" stroke="#333" stroke-width="0.5" />
<text transform="translate(65.60,268.35) scale(0.1)" font-size="29.5" text-anchor="start" font-weight="bold" fill="#111" stroke="#111" stroke-width="2.2" textLength="452.0" lengthAdjust="spacingAndGlyphs">PIASTRA (X30/5&#247;12)x390x10</text>
<polyline points="64.60,268.30 112.00,268.30 146.00,280.40" fill="none" stroke="#333" stroke-width="0.5" />
<text transform="translate(229.30,292.95) scale(0.1)" font-size="29.5" text-anchor="start" font-weight="bold" fill="#111" stroke="#111" stroke-width="2.2" textLength="336.0" lengthAdjust="spacingAndGlyphs">PIASTRA 750x450x10</text>
<polyline points="263.00,292.90 227.10,292.90 210.00,330.40" fill="none" stroke="#333" stroke-width="0.5" />
<text transform="translate(236.90,302.25) scale(0.1)" font-size="29.5" text-anchor="start" font-weight="bold" fill="#111" stroke="#111" stroke-width="2.2" textLength="267.0" lengthAdjust="spacingAndGlyphs">TRAVE DI COLMO</text>
<polyline points="263.70,302.20 235.00,302.20 226.00,318.40" fill="none" stroke="#333" stroke-width="0.5" />
<text transform="translate(65.30,394.35) scale(0.1)" font-size="29.5" text-anchor="start" font-weight="bold" fill="#111" stroke="#111" stroke-width="2.2" textLength="458.0" lengthAdjust="spacingAndGlyphs">PIASTRA (X30/5&#247;12)x390x10</text>
<polyline points="65.30,394.30 113.00,394.30 144.80,381.10" fill="none" stroke="#333" stroke-width="0.5" />
</g>
<g id="particolare-1">
<text transform="translate(302.00,45.80) scale(0.1)" font-size="64.0" text-anchor="start" font-weight="normal" fill="#3c3c3c" stroke="#3c3c3c" stroke-width="1.2" textLength="462.0" lengthAdjust="spacingAndGlyphs">PARTICOLARE 1</text>
<text transform="translate(302.30,51.30) scale(0.1)" font-size="41.0" text-anchor="start" font-weight="normal" fill="#444" stroke="#444" stroke-width="1.6" textLength="174.0" lengthAdjust="spacingAndGlyphs">Scala 1:5</text>
<clipPath id="clipL"><rect x="280" y="40" width="159.30" height="200"/></clipPath>
<clipPath id="clipR"><rect x="445.0" y="40" width="200" height="200"/></clipPath>
<g clip-path="url(#clipL)"><g transform="translate(320.4,95) rotate(-8.6)">
<line x1="0.00" y1="5.63" x2="135.00" y2="5.63" stroke="#555" stroke-width="0.5" />
<line x1="0.00" y1="11.27" x2="135.00" y2="11.27" stroke="#555" stroke-width="0.5" />
<line x1="0.00" y1="16.90" x2="135.00" y2="16.90" stroke="#555" stroke-width="0.5" />
<line x1="0.00" y1="22.53" x2="135.00" y2="22.53" stroke="#555" stroke-width="0.5" />
<line x1="0.00" y1="28.17" x2="135.00" y2="28.17" stroke="#555" stroke-width="0.5" />
<line x1="0.00" y1="33.80" x2="135.00" y2="33.80" stroke="#555" stroke-width="0.5" />
<line x1="0.00" y1="39.43" x2="135.00" y2="39.43" stroke="#555" stroke-width="0.5" />
<line x1="0.00" y1="45.07" x2="135.00" y2="45.07" stroke="#555" stroke-width="0.5" />
<line x1="0.00" y1="50.70" x2="135.00" y2="50.70" stroke="#555" stroke-width="0.5" />
<line x1="0.00" y1="56.33" x2="135.00" y2="56.33" stroke="#555" stroke-width="0.5" />
<line x1="0.00" y1="61.97" x2="135.00" y2="61.97" stroke="#555" stroke-width="0.5" />
<line x1="0.00" y1="67.60" x2="135.00" y2="67.60" stroke="#555" stroke-width="0.5" />
<line x1="0.00" y1="73.23" x2="135.00" y2="73.23" stroke="#555" stroke-width="0.5" />
<line x1="0.00" y1="78.87" x2="135.00" y2="78.87" stroke="#555" stroke-width="0.5" />
<line x1="0.00" y1="0.00" x2="135.00" y2="0.00" stroke="#1c1c1c" stroke-width="1.3" />
<line x1="0.00" y1="51.20" x2="135.00" y2="51.20" stroke="#1c1c1c" stroke-width="1.2" />
<line x1="0.00" y1="84.50" x2="135.00" y2="84.50" stroke="#1c1c1c" stroke-width="1.3" />
<line x1="0.00" y1="0.00" x2="0.00" y2="84.50" stroke="#555" stroke-width="0.5" />
<polyline points="135.00,11.40 37.50,11.40 37.50,72.70 135.00,72.70" fill="none" stroke="#1c1c1c" stroke-width="1.0" stroke-dasharray="3.4 1.6"/>
<circle cx="42.6" cy="16.6" r="1.2" fill="#aaa" stroke="#555" stroke-width="0.4"/>
<line x1="40.60" y1="16.60" x2="44.60" y2="16.60" stroke="#666" stroke-width="0.35" />
<line x1="42.60" y1="14.60" x2="42.60" y2="18.60" stroke="#666" stroke-width="0.35" />
<circle cx="42.6" cy="25.0" r="1.2" fill="#aaa" stroke="#555" stroke-width="0.4"/>
<line x1="40.60" y1="25.00" x2="44.60" y2="25.00" stroke="#666" stroke-width="0.35" />
<line x1="42.60" y1="23.00" x2="42.60" y2="27.00" stroke="#666" stroke-width="0.35" />
<circle cx="42.6" cy="33.4" r="1.2" fill="#aaa" stroke="#555" stroke-width="0.4"/>
<line x1="40.60" y1="33.40" x2="44.60" y2="33.40" stroke="#666" stroke-width="0.35" />
<line x1="42.60" y1="31.40" x2="42.60" y2="35.40" stroke="#666" stroke-width="0.35" />
<circle cx="42.6" cy="41.8" r="1.2" fill="#aaa" stroke="#555" stroke-width="0.4"/>
<line x1="40.60" y1="41.80" x2="44.60" y2="41.80" stroke="#666" stroke-width="0.35" />
<line x1="42.60" y1="39.80" x2="42.60" y2="43.80" stroke="#666" stroke-width="0.35" />
<circle cx="42.6" cy="59.1" r="1.2" fill="#aaa" stroke="#555" stroke-width="0.4"/>
<line x1="40.60" y1="59.10" x2="44.60" y2="59.10" stroke="#666" stroke-width="0.35" />
<line x1="42.60" y1="57.10" x2="42.60" y2="61.10" stroke="#666" stroke-width="0.35" />
<circle cx="42.6" cy="67.5" r="1.2" fill="#aaa" stroke="#555" stroke-width="0.4"/>
<line x1="40.60" y1="67.50" x2="44.60" y2="67.50" stroke="#666" stroke-width="0.35" />
<line x1="42.60" y1="65.50" x2="42.60" y2="69.50" stroke="#666" stroke-width="0.35" />
<circle cx="59.7" cy="16.6" r="1.2" fill="#aaa" stroke="#555" stroke-width="0.4"/>
<line x1="57.70" y1="16.60" x2="61.70" y2="16.60" stroke="#666" stroke-width="0.35" />
<line x1="59.70" y1="14.60" x2="59.70" y2="18.60" stroke="#666" stroke-width="0.35" />
<circle cx="59.7" cy="25.0" r="1.2" fill="#aaa" stroke="#555" stroke-width="0.4"/>
<line x1="57.70" y1="25.00" x2="61.70" y2="25.00" stroke="#666" stroke-width="0.35" />
<line x1="59.70" y1="23.00" x2="59.70" y2="27.00" stroke="#666" stroke-width="0.35" />
<circle cx="59.7" cy="33.4" r="1.2" fill="#aaa" stroke="#555" stroke-width="0.4"/>
<line x1="57.70" y1="33.40" x2="61.70" y2="33.40" stroke="#666" stroke-width="0.35" />
<line x1="59.70" y1="31.40" x2="59.70" y2="35.40" stroke="#666" stroke-width="0.35" />
<circle cx="59.7" cy="41.8" r="1.2" fill="#aaa" stroke="#555" stroke-width="0.4"/>
<line x1="57.70" y1="41.80" x2="61.70" y2="41.80" stroke="#666" stroke-width="0.35" />
<line x1="59.70" y1="39.80" x2="59.70" y2="43.80" stroke="#666" stroke-width="0.35" />
<circle cx="59.7" cy="59.1" r="1.2" fill="#aaa" stroke="#555" stroke-width="0.4"/>
<line x1="57.70" y1="59.10" x2="61.70" y2="59.10" stroke="#666" stroke-width="0.35" />
<line x1="59.70" y1="57.10" x2="59.70" y2="61.10" stroke="#666" stroke-width="0.35" />
<circle cx="59.7" cy="67.5" r="1.2" fill="#aaa" stroke="#555" stroke-width="0.4"/>
<line x1="57.70" y1="67.50" x2="61.70" y2="67.50" stroke="#666" stroke-width="0.35" />
<line x1="59.70" y1="65.50" x2="59.70" y2="69.50" stroke="#666" stroke-width="0.35" />
<circle cx="76.8" cy="16.6" r="1.2" fill="#aaa" stroke="#555" stroke-width="0.4"/>
<line x1="74.80" y1="16.60" x2="78.80" y2="16.60" stroke="#666" stroke-width="0.35" />
<line x1="76.80" y1="14.60" x2="76.80" y2="18.60" stroke="#666" stroke-width="0.35" />
<circle cx="76.8" cy="25.0" r="1.2" fill="#aaa" stroke="#555" stroke-width="0.4"/>
<line x1="74.80" y1="25.00" x2="78.80" y2="25.00" stroke="#666" stroke-width="0.35" />
<line x1="76.80" y1="23.00" x2="76.80" y2="27.00" stroke="#666" stroke-width="0.35" />
<circle cx="76.8" cy="33.4" r="1.2" fill="#aaa" stroke="#555" stroke-width="0.4"/>
<line x1="74.80" y1="33.40" x2="78.80" y2="33.40" stroke="#666" stroke-width="0.35" />
<line x1="76.80" y1="31.40" x2="76.80" y2="35.40" stroke="#666" stroke-width="0.35" />
<circle cx="76.8" cy="41.8" r="1.2" fill="#aaa" stroke="#555" stroke-width="0.4"/>
<line x1="74.80" y1="41.80" x2="78.80" y2="41.80" stroke="#666" stroke-width="0.35" />
<line x1="76.80" y1="39.80" x2="76.80" y2="43.80" stroke="#666" stroke-width="0.35" />
<circle cx="76.8" cy="59.1" r="1.2" fill="#aaa" stroke="#555" stroke-width="0.4"/>
<line x1="74.80" y1="59.10" x2="78.80" y2="59.10" stroke="#666" stroke-width="0.35" />
<line x1="76.80" y1="57.10" x2="76.80" y2="61.10" stroke="#666" stroke-width="0.35" />
<circle cx="76.8" cy="67.5" r="1.2" fill="#aaa" stroke="#555" stroke-width="0.4"/>
<line x1="74.80" y1="67.50" x2="78.80" y2="67.50" stroke="#666" stroke-width="0.35" />
<line x1="76.80" y1="65.50" x2="76.80" y2="69.50" stroke="#666" stroke-width="0.35" />
<circle cx="93.9" cy="16.6" r="1.2" fill="#aaa" stroke="#555" stroke-width="0.4"/>
<line x1="91.90" y1="16.60" x2="95.90" y2="16.60" stroke="#666" stroke-width="0.35" />
<line x1="93.90" y1="14.60" x2="93.90" y2="18.60" stroke="#666" stroke-width="0.35" />
<circle cx="93.9" cy="25.0" r="1.2" fill="#aaa" stroke="#555" stroke-width="0.4"/>
<line x1="91.90" y1="25.00" x2="95.90" y2="25.00" stroke="#666" stroke-width="0.35" />
<line x1="93.90" y1="23.00" x2="93.90" y2="27.00" stroke="#666" stroke-width="0.35" />
<circle cx="93.9" cy="33.4" r="1.2" fill="#aaa" stroke="#555" stroke-width="0.4"/>
<line x1="91.90" y1="33.40" x2="95.90" y2="33.40" stroke="#666" stroke-width="0.35" />
<line x1="93.90" y1="31.40" x2="93.90" y2="35.40" stroke="#666" stroke-width="0.35" />
<circle cx="93.9" cy="41.8" r="1.2" fill="#aaa" stroke="#555" stroke-width="0.4"/>
<line x1="91.90" y1="41.80" x2="95.90" y2="41.80" stroke="#666" stroke-width="0.35" />
<line x1="93.90" y1="39.80" x2="93.90" y2="43.80" stroke="#666" stroke-width="0.35" />
<circle cx="93.9" cy="59.1" r="1.2" fill="#aaa" stroke="#555" stroke-width="0.4"/>
<line x1="91.90" y1="59.10" x2="95.90" y2="59.10" stroke="#666" stroke-width="0.35" />
<line x1="93.90" y1="57.10" x2="93.90" y2="61.10" stroke="#666" stroke-width="0.35" />
<circle cx="93.9" cy="67.5" r="1.2" fill="#aaa" stroke="#555" stroke-width="0.4"/>
<line x1="91.90" y1="67.50" x2="95.90" y2="67.50" stroke="#666" stroke-width="0.35" />
<line x1="93.90" y1="65.50" x2="93.90" y2="69.50" stroke="#666" stroke-width="0.35" />
</g></g>
<g clip-path="url(#clipR)"><g transform="translate(563.90,95) scale(-1,1) rotate(-8.6)">
<line x1="1.40" y1="5.63" x2="135.00" y2="5.63" stroke="#555" stroke-width="0.5" />
<line x1="1.40" y1="11.27" x2="135.00" y2="11.27" stroke="#555" stroke-width="0.5" />
<line x1="1.40" y1="16.90" x2="135.00" y2="16.90" stroke="#555" stroke-width="0.5" />
<line x1="1.40" y1="22.53" x2="135.00" y2="22.53" stroke="#555" stroke-width="0.5" />
<line x1="1.40" y1="28.17" x2="135.00" y2="28.17" stroke="#555" stroke-width="0.5" />
<line x1="1.40" y1="33.80" x2="135.00" y2="33.80" stroke="#555" stroke-width="0.5" />
<line x1="1.40" y1="39.43" x2="135.00" y2="39.43" stroke="#555" stroke-width="0.5" />
<line x1="1.40" y1="45.07" x2="135.00" y2="45.07" stroke="#555" stroke-width="0.5" />
<line x1="1.40" y1="50.70" x2="135.00" y2="50.70" stroke="#555" stroke-width="0.5" />
<line x1="1.40" y1="56.33" x2="135.00" y2="56.33" stroke="#555" stroke-width="0.5" />
<line x1="1.40" y1="61.97" x2="135.00" y2="61.97" stroke="#555" stroke-width="0.5" />
<line x1="1.40" y1="67.60" x2="135.00" y2="67.60" stroke="#555" stroke-width="0.5" />
<line x1="1.40" y1="73.23" x2="135.00" y2="73.23" stroke="#555" stroke-width="0.5" />
<line x1="1.40" y1="78.87" x2="135.00" y2="78.87" stroke="#555" stroke-width="0.5" />
<line x1="1.40" y1="0.00" x2="135.00" y2="0.00" stroke="#1c1c1c" stroke-width="1.3" />
<line x1="1.40" y1="51.20" x2="135.00" y2="51.20" stroke="#1c1c1c" stroke-width="1.2" />
<line x1="1.40" y1="84.50" x2="135.00" y2="84.50" stroke="#1c1c1c" stroke-width="1.3" />
<line x1="1.40" y1="0.00" x2="1.40" y2="84.50" stroke="#555" stroke-width="0.5" />
<polyline points="135.00,11.40 37.50,11.40 37.50,72.70 135.00,72.70" fill="none" stroke="#1c1c1c" stroke-width="1.0" stroke-dasharray="3.4 1.6"/>
<circle cx="42.6" cy="16.6" r="1.2" fill="#aaa" stroke="#555" stroke-width="0.4"/>
<line x1="40.60" y1="16.60" x2="44.60" y2="16.60" stroke="#666" stroke-width="0.35" />
<line x1="42.60" y1="14.60" x2="42.60" y2="18.60" stroke="#666" stroke-width="0.35" />
<circle cx="42.6" cy="25.0" r="1.2" fill="#aaa" stroke="#555" stroke-width="0.4"/>
<line x1="40.60" y1="25.00" x2="44.60" y2="25.00" stroke="#666" stroke-width="0.35" />
<line x1="42.60" y1="23.00" x2="42.60" y2="27.00" stroke="#666" stroke-width="0.35" />
<circle cx="42.6" cy="33.4" r="1.2" fill="#aaa" stroke="#555" stroke-width="0.4"/>
<line x1="40.60" y1="33.40" x2="44.60" y2="33.40" stroke="#666" stroke-width="0.35" />
<line x1="42.60" y1="31.40" x2="42.60" y2="35.40" stroke="#666" stroke-width="0.35" />
<circle cx="42.6" cy="41.8" r="1.2" fill="#aaa" stroke="#555" stroke-width="0.4"/>
<line x1="40.60" y1="41.80" x2="44.60" y2="41.80" stroke="#666" stroke-width="0.35" />
<line x1="42.60" y1="39.80" x2="42.60" y2="43.80" stroke="#666" stroke-width="0.35" />
<circle cx="42.6" cy="59.1" r="1.2" fill="#aaa" stroke="#555" stroke-width="0.4"/>
<line x1="40.60" y1="59.10" x2="44.60" y2="59.10" stroke="#666" stroke-width="0.35" />
<line x1="42.60" y1="57.10" x2="42.60" y2="61.10" stroke="#666" stroke-width="0.35" />
<circle cx="42.6" cy="67.5" r="1.2" fill="#aaa" stroke="#555" stroke-width="0.4"/>
<line x1="40.60" y1="67.50" x2="44.60" y2="67.50" stroke="#666" stroke-width="0.35" />
<line x1="42.60" y1="65.50" x2="42.60" y2="69.50" stroke="#666" stroke-width="0.35" />
<circle cx="59.7" cy="16.6" r="1.2" fill="#aaa" stroke="#555" stroke-width="0.4"/>
<line x1="57.70" y1="16.60" x2="61.70" y2="16.60" stroke="#666" stroke-width="0.35" />
<line x1="59.70" y1="14.60" x2="59.70" y2="18.60" stroke="#666" stroke-width="0.35" />
<circle cx="59.7" cy="25.0" r="1.2" fill="#aaa" stroke="#555" stroke-width="0.4"/>
<line x1="57.70" y1="25.00" x2="61.70" y2="25.00" stroke="#666" stroke-width="0.35" />
<line x1="59.70" y1="23.00" x2="59.70" y2="27.00" stroke="#666" stroke-width="0.35" />
<circle cx="59.7" cy="33.4" r="1.2" fill="#aaa" stroke="#555" stroke-width="0.4"/>
<line x1="57.70" y1="33.40" x2="61.70" y2="33.40" stroke="#666" stroke-width="0.35" />
<line x1="59.70" y1="31.40" x2="59.70" y2="35.40" stroke="#666" stroke-width="0.35" />
<circle cx="59.7" cy="41.8" r="1.2" fill="#aaa" stroke="#555" stroke-width="0.4"/>
<line x1="57.70" y1="41.80" x2="61.70" y2="41.80" stroke="#666" stroke-width="0.35" />
<line x1="59.70" y1="39.80" x2="59.70" y2="43.80" stroke="#666" stroke-width="0.35" />
<circle cx="59.7" cy="59.1" r="1.2" fill="#aaa" stroke="#555" stroke-width="0.4"/>
<line x1="57.70" y1="59.10" x2="61.70" y2="59.10" stroke="#666" stroke-width="0.35" />
<line x1="59.70" y1="57.10" x2="59.70" y2="61.10" stroke="#666" stroke-width="0.35" />
<circle cx="59.7" cy="67.5" r="1.2" fill="#aaa" stroke="#555" stroke-width="0.4"/>
<line x1="57.70" y1="67.50" x2="61.70" y2="67.50" stroke="#666" stroke-width="0.35" />
<line x1="59.70" y1="65.50" x2="59.70" y2="69.50" stroke="#666" stroke-width="0.35" />
<circle cx="76.8" cy="16.6" r="1.2" fill="#aaa" stroke="#555" stroke-width="0.4"/>
<line x1="74.80" y1="16.60" x2="78.80" y2="16.60" stroke="#666" stroke-width="0.35" />
<line x1="76.80" y1="14.60" x2="76.80" y2="18.60" stroke="#666" stroke-width="0.35" />
<circle cx="76.8" cy="25.0" r="1.2" fill="#aaa" stroke="#555" stroke-width="0.4"/>
<line x1="74.80" y1="25.00" x2="78.80" y2="25.00" stroke="#666" stroke-width="0.35" />
<line x1="76.80" y1="23.00" x2="76.80" y2="27.00" stroke="#666" stroke-width="0.35" />
<circle cx="76.8" cy="33.4" r="1.2" fill="#aaa" stroke="#555" stroke-width="0.4"/>
<line x1="74.80" y1="33.40" x2="78.80" y2="33.40" stroke="#666" stroke-width="0.35" />
<line x1="76.80" y1="31.40" x2="76.80" y2="35.40" stroke="#666" stroke-width="0.35" />
<circle cx="76.8" cy="41.8" r="1.2" fill="#aaa" stroke="#555" stroke-width="0.4"/>
<line x1="74.80" y1="41.80" x2="78.80" y2="41.80" stroke="#666" stroke-width="0.35" />
<line x1="76.80" y1="39.80" x2="76.80" y2="43.80" stroke="#666" stroke-width="0.35" />
<circle cx="76.8" cy="59.1" r="1.2" fill="#aaa" stroke="#555" stroke-width="0.4"/>
<line x1="74.80" y1="59.10" x2="78.80" y2="59.10" stroke="#666" stroke-width="0.35" />
<line x1="76.80" y1="57.10" x2="76.80" y2="61.10" stroke="#666" stroke-width="0.35" />
<circle cx="76.8" cy="67.5" r="1.2" fill="#aaa" stroke="#555" stroke-width="0.4"/>
<line x1="74.80" y1="67.50" x2="78.80" y2="67.50" stroke="#666" stroke-width="0.35" />
<line x1="76.80" y1="65.50" x2="76.80" y2="69.50" stroke="#666" stroke-width="0.35" />
<circle cx="93.9" cy="16.6" r="1.2" fill="#aaa" stroke="#555" stroke-width="0.4"/>
<line x1="91.90" y1="16.60" x2="95.90" y2="16.60" stroke="#666" stroke-width="0.35" />
<line x1="93.90" y1="14.60" x2="93.90" y2="18.60" stroke="#666" stroke-width="0.35" />
<circle cx="93.9" cy="25.0" r="1.2" fill="#aaa" stroke="#555" stroke-width="0.4"/>
<line x1="91.90" y1="25.00" x2="95.90" y2="25.00" stroke="#666" stroke-width="0.35" />
<line x1="93.90" y1="23.00" x2="93.90" y2="27.00" stroke="#666" stroke-width="0.35" />
<circle cx="93.9" cy="33.4" r="1.2" fill="#aaa" stroke="#555" stroke-width="0.4"/>
<line x1="91.90" y1="33.40" x2="95.90" y2="33.40" stroke="#666" stroke-width="0.35" />
<line x1="93.90" y1="31.40" x2="93.90" y2="35.40" stroke="#666" stroke-width="0.35" />
<circle cx="93.9" cy="41.8" r="1.2" fill="#aaa" stroke="#555" stroke-width="0.4"/>
<line x1="91.90" y1="41.80" x2="95.90" y2="41.80" stroke="#666" stroke-width="0.35" />
<line x1="93.90" y1="39.80" x2="93.90" y2="43.80" stroke="#666" stroke-width="0.35" />
<circle cx="93.9" cy="59.1" r="1.2" fill="#aaa" stroke="#555" stroke-width="0.4"/>
<line x1="91.90" y1="59.10" x2="95.90" y2="59.10" stroke="#666" stroke-width="0.35" />
<line x1="93.90" y1="57.10" x2="93.90" y2="61.10" stroke="#666" stroke-width="0.35" />
<circle cx="93.9" cy="67.5" r="1.2" fill="#aaa" stroke="#555" stroke-width="0.4"/>
<line x1="91.90" y1="67.50" x2="95.90" y2="67.50" stroke="#666" stroke-width="0.35" />
<line x1="93.90" y1="65.50" x2="93.90" y2="69.50" stroke="#666" stroke-width="0.35" />
</g></g>
<g transform="translate(320.4,95) rotate(-8.6)">
<line x1="-18.30" y1="-1.50" x2="-18.30" y2="86.00" stroke="#3a3a3a" stroke-width="0.5" />
<line x1="-10.10" y1="-1.50" x2="-10.10" y2="86.00" stroke="#3a3a3a" stroke-width="0.5" />
<line x1="-19.80" y1="0.00" x2="-1.00" y2="0.00" stroke="#555" stroke-width="0.45" />
<line x1="-19.80" y1="51.20" x2="-1.00" y2="51.20" stroke="#555" stroke-width="0.45" />
<line x1="-19.80" y1="84.50" x2="-1.00" y2="84.50" stroke="#555" stroke-width="0.45" />
<line x1="-19.15" y1="0.85" x2="-17.45" y2="-0.85" stroke="#222" stroke-width="0.6" />
<line x1="-19.15" y1="85.35" x2="-17.45" y2="83.65" stroke="#222" stroke-width="0.6" />
<line x1="-10.95" y1="0.85" x2="-9.25" y2="-0.85" stroke="#222" stroke-width="0.6" />
<line x1="-10.95" y1="52.05" x2="-9.25" y2="50.35" stroke="#222" stroke-width="0.6" />
<line x1="-10.95" y1="85.35" x2="-9.25" y2="83.65" stroke="#222" stroke-width="0.6" />
<text transform="translate(-6.90,25.60) rotate(-90.00) scale(0.1)" font-size="29.0" text-anchor="middle" font-weight="bold" fill="#111" stroke="#111" stroke-width="3.0">557</text>
<text transform="translate(-6.90,68.00) rotate(-90.00) scale(0.1)" font-size="29.0" text-anchor="middle" font-weight="bold" fill="#111" stroke="#111" stroke-width="3.0">300</text>
<text transform="translate(-14.80,42.20) rotate(-90.00) scale(0.1)" font-size="29.0" text-anchor="middle" font-weight="bold" fill="#111" stroke="#111" stroke-width="3.0">857</text>
<line x1="19.90" y1="0.00" x2="19.90" y2="84.50" stroke="#3a3a3a" stroke-width="0.5" />
<line x1="31.00" y1="10.00" x2="31.00" y2="74.00" stroke="#3a3a3a" stroke-width="0.5" />
<line x1="30.36" y1="12.04" x2="31.64" y2="10.76" stroke="#222" stroke-width="0.6" />
<line x1="30.00" y1="11.40" x2="37.50" y2="11.40" stroke="#666" stroke-width="0.4" />
<line x1="30.36" y1="17.24" x2="31.64" y2="15.96" stroke="#222" stroke-width="0.6" />
<line x1="30.00" y1="16.60" x2="37.50" y2="16.60" stroke="#666" stroke-width="0.4" />
<line x1="30.36" y1="25.64" x2="31.64" y2="24.36" stroke="#222" stroke-width="0.6" />
<line x1="30.00" y1="25.00" x2="37.50" y2="25.00" stroke="#666" stroke-width="0.4" />
<line x1="30.36" y1="34.04" x2="31.64" y2="32.76" stroke="#222" stroke-width="0.6" />
<line x1="30.00" y1="33.40" x2="37.50" y2="33.40" stroke="#666" stroke-width="0.4" />
<line x1="30.36" y1="42.44" x2="31.64" y2="41.16" stroke="#222" stroke-width="0.6" />
<line x1="30.00" y1="41.80" x2="37.50" y2="41.80" stroke="#666" stroke-width="0.4" />
<line x1="30.36" y1="59.74" x2="31.64" y2="58.46" stroke="#222" stroke-width="0.6" />
<line x1="30.00" y1="59.10" x2="37.50" y2="59.10" stroke="#666" stroke-width="0.4" />
<line x1="30.36" y1="68.14" x2="31.64" y2="66.86" stroke="#222" stroke-width="0.6" />
<line x1="30.00" y1="67.50" x2="37.50" y2="67.50" stroke="#666" stroke-width="0.4" />
<line x1="30.36" y1="73.34" x2="31.64" y2="72.06" stroke="#222" stroke-width="0.6" />
<line x1="30.00" y1="72.70" x2="37.50" y2="72.70" stroke="#666" stroke-width="0.4" />
<line x1="19.05" y1="0.85" x2="20.75" y2="-0.85" stroke="#222" stroke-width="0.6" />
<line x1="19.05" y1="12.25" x2="20.75" y2="10.55" stroke="#222" stroke-width="0.6" />
<line x1="19.05" y1="73.55" x2="20.75" y2="71.85" stroke="#222" stroke-width="0.6" />
<line x1="19.05" y1="85.35" x2="20.75" y2="83.65" stroke="#222" stroke-width="0.6" />
<line x1="19.90" y1="11.40" x2="37.50" y2="11.40" stroke="#666" stroke-width="0.4" />
<line x1="19.90" y1="72.70" x2="37.50" y2="72.70" stroke="#666" stroke-width="0.4" />
<text transform="translate(21.90,5.70) rotate(-90.00) scale(0.1)" font-size="29.0" text-anchor="middle" font-weight="bold" fill="#111" stroke="#111" stroke-width="3.0">60</text>
<text transform="translate(28.20,14.60) rotate(-90.00) scale(0.1)" font-size="29.0" text-anchor="middle" font-weight="bold" fill="#111" stroke="#111" stroke-width="3.0">85</text>
<text transform="translate(28.20,21.40) rotate(-90.00) scale(0.1)" font-size="29.0" text-anchor="middle" font-weight="bold" fill="#111" stroke="#111" stroke-width="3.0">85</text>
<text transform="translate(28.20,29.80) rotate(-90.00) scale(0.1)" font-size="29.0" text-anchor="middle" font-weight="bold" fill="#111" stroke="#111" stroke-width="3.0">85</text>
<text transform="translate(28.20,38.20) rotate(-90.00) scale(0.1)" font-size="29.0" text-anchor="middle" font-weight="bold" fill="#111" stroke="#111" stroke-width="3.0">85</text>
<text transform="translate(28.20,46.50) rotate(-90.00) scale(0.1)" font-size="29.0" text-anchor="middle" font-weight="bold" fill="#111" stroke="#111" stroke-width="3.0">85</text>
<text transform="translate(28.20,54.00) rotate(-90.00) scale(0.1)" font-size="29.0" text-anchor="middle" font-weight="bold" fill="#111" stroke="#111" stroke-width="3.0">85</text>
<text transform="translate(28.20,63.80) rotate(-90.00) scale(0.1)" font-size="29.0" text-anchor="middle" font-weight="bold" fill="#111" stroke="#111" stroke-width="3.0">85</text>
<text transform="translate(28.20,70.60) rotate(-90.00) scale(0.1)" font-size="29.0" text-anchor="middle" font-weight="bold" fill="#111" stroke="#111" stroke-width="3.0">85</text>
<text transform="translate(22.30,42.00) rotate(-90.00) scale(0.1)" font-size="29.0" text-anchor="middle" font-weight="bold" fill="#111" stroke="#111" stroke-width="3.0">450</text>
<text transform="translate(21.90,78.60) rotate(-90.00) scale(0.1)" font-size="29.0" text-anchor="middle" font-weight="bold" fill="#111" stroke="#111" stroke-width="3.0">60</text>
<line x1="36.00" y1="-7.00" x2="107.50" y2="-7.00" stroke="#3a3a3a" stroke-width="0.5" />
<line x1="37.50" y1="-8.00" x2="37.50" y2="11.00" stroke="#555" stroke-width="0.45" />
<line x1="36.65" y1="-6.15" x2="38.35" y2="-7.85" stroke="#222" stroke-width="0.6" />
<text transform="translate(78.00,-7.80) scale(0.1)" font-size="29.0" text-anchor="middle" font-weight="bold" fill="#111" stroke="#111" stroke-width="3.0">375</text>
<line x1="36.00" y1="92.30" x2="108.50" y2="92.30" stroke="#3a3a3a" stroke-width="0.5" />
<line x1="36.00" y1="98.00" x2="109.50" y2="98.00" stroke="#3a3a3a" stroke-width="0.5" />
<line x1="37.50" y1="73.50" x2="37.50" y2="99.40" stroke="#555" stroke-width="0.45" />
<line x1="36.86" y1="92.94" x2="38.14" y2="91.66" stroke="#222" stroke-width="0.6" />
<line x1="42.60" y1="73.50" x2="42.60" y2="93.60" stroke="#555" stroke-width="0.45" />
<line x1="41.96" y1="92.94" x2="43.24" y2="91.66" stroke="#222" stroke-width="0.6" />
<line x1="59.70" y1="73.50" x2="59.70" y2="93.60" stroke="#555" stroke-width="0.45" />
<line x1="59.06" y1="92.94" x2="60.34" y2="91.66" stroke="#222" stroke-width="0.6" />
<line x1="76.80" y1="73.50" x2="76.80" y2="93.60" stroke="#555" stroke-width="0.45" />
<line x1="76.16" y1="92.94" x2="77.44" y2="91.66" stroke="#222" stroke-width="0.6" />
<line x1="93.90" y1="73.50" x2="93.90" y2="93.60" stroke="#555" stroke-width="0.45" />
<line x1="93.26" y1="92.94" x2="94.54" y2="91.66" stroke="#222" stroke-width="0.6" />
<line x1="36.65" y1="98.85" x2="38.35" y2="97.15" stroke="#222" stroke-width="0.6" />
<text transform="translate(40.00,91.40) scale(0.1)" font-size="25.0" text-anchor="middle" font-weight="bold" fill="#111" stroke="#111" stroke-width="3.0">50</text>
<text transform="translate(51.20,91.40) scale(0.1)" font-size="29.0" text-anchor="middle" font-weight="bold" fill="#111" stroke="#111" stroke-width="3.0">100</text>
<text transform="translate(68.20,91.40) scale(0.1)" font-size="29.0" text-anchor="middle" font-weight="bold" fill="#111" stroke="#111" stroke-width="3.0">100</text>
<text transform="translate(85.40,91.40) scale(0.1)" font-size="29.0" text-anchor="middle" font-weight="bold" fill="#111" stroke="#111" stroke-width="3.0">100</text>
<text transform="translate(100.60,91.40) scale(0.1)" font-size="29.0" text-anchor="middle" font-weight="bold" fill="#111" stroke="#111" stroke-width="3.0">125</text>
<text transform="translate(73.00,97.30) scale(0.1)" font-size="29.0" text-anchor="middle" font-weight="bold" fill="#111" stroke="#111" stroke-width="3.0">375</text>
</g>
<polyline points="321.00,136.60 324.00,136.20 326.00,134.80 325.60,138.20 327.40,136.60" fill="none" stroke="#555" stroke-width="0.5" />
<polyline points="556.40,134.00 558.20,132.60 557.80,136.20 559.80,134.60 563.00,135.00" fill="none" stroke="#555" stroke-width="0.5" />
<rect x="439.3" y="77.4" width="5.7" height="86.4" fill="#fff" stroke="#333" stroke-width="0.6"/>
<rect x="439.6" y="88.0" width="5.1" height="75.8" fill="#181818"/>
<line x1="442.15" y1="78.00" x2="442.15" y2="87.00" stroke="#222" stroke-width="1.6" stroke-dasharray="2.2 1"/>
<polyline points="425.50,78.50 425.50,68.20 458.60,68.20 458.60,77.40" fill="none" stroke="#777" stroke-width="0.5" />
<line x1="425.50" y1="79.00" x2="425.50" y2="164.00" stroke="#999" stroke-width="0.5" stroke-dasharray="3 1 0.8 1"/>
<line x1="458.60" y1="78.00" x2="458.60" y2="164.00" stroke="#999" stroke-width="0.5" stroke-dasharray="3 1 0.8 1"/>
<line x1="451.60" y1="86.00" x2="451.60" y2="163.00" stroke="#aaa" stroke-width="0.5" />
<polyline points="425.70,164.60 425.70,173.10 458.60,173.10 458.60,164.30" fill="none" stroke="#1c1c1c" stroke-width="1.0" />
<text transform="translate(435.00,170.60) scale(0.1)" font-size="29.0" text-anchor="middle" font-weight="bold" fill="#111" stroke="#111" stroke-width="3.0">145</text>
<line x1="458.60" y1="77.40" x2="508.60" y2="77.40" stroke="#aaa" stroke-width="0.6" stroke-dasharray="3.2 1.6"/>
<line x1="502.00" y1="77.40" x2="502.00" y2="86.30" stroke="#444" stroke-width="0.6" />
<text transform="translate(501.40,83.50) rotate(-90.00) scale(0.1)" font-size="27.0" text-anchor="middle" font-weight="bold" fill="#111" stroke="#111" stroke-width="3.0">50</text>
<line x1="458.60" y1="100.20" x2="503.60" y2="100.20" stroke="#bbb" stroke-width="0.5" />
<line x1="441.50" y1="45.00" x2="441.50" y2="77.00" stroke="#222" stroke-width="0.7" />
<line x1="441.50" y1="49.00" x2="454.30" y2="49.00" stroke="#222" stroke-width="0.6" />
<polygon points="441.50,49.00 444.60,47.70 444.60,50.30" fill="#222" stroke="#222" stroke-width="0.3" />
<text transform="translate(446.60,48.00) scale(0.1)" font-size="32.0" text-anchor="start" font-weight="normal" fill="#111">D</text>
<line x1="441.70" y1="173.10" x2="441.70" y2="203.00" stroke="#222" stroke-width="0.8" stroke-dasharray="3.6 1.4"/>
<line x1="441.70" y1="199.30" x2="454.30" y2="199.30" stroke="#222" stroke-width="0.6" />
<polygon points="441.70,199.30 444.80,198.00 444.80,200.60" fill="#222" stroke="#222" stroke-width="0.3" />
<text transform="translate(446.60,203.20) scale(0.1)" font-size="32.0" text-anchor="start" font-weight="normal" fill="#111">D</text>
<text transform="translate(441.00,70.20) rotate(-90.00) scale(0.1)" font-size="27.0" text-anchor="middle" font-weight="bold" fill="#111" stroke="#111" stroke-width="3.0">10</text>
<text transform="translate(449.30,126.50) rotate(-90.00) scale(0.1)" font-size="27.0" text-anchor="middle" font-weight="bold" fill="#111" stroke="#111" stroke-width="3.0">50</text>
<text transform="translate(469.40,61.55) scale(0.1)" font-size="29.5" text-anchor="start" font-weight="bold" fill="#111" stroke="#111" stroke-width="2.2" textLength="266.0" lengthAdjust="spacingAndGlyphs">TRAVE DI COLMO</text>
<polyline points="496.20,61.50 467.10,61.50 458.60,77.40" fill="none" stroke="#333" stroke-width="0.5" />
<text transform="translate(343.80,63.65) scale(0.1)" font-size="29.5" text-anchor="start" font-weight="bold" fill="#111" stroke="#111" stroke-width="2.2" textLength="448.0" lengthAdjust="spacingAndGlyphs">PIASTRA (X30/5&#247;12)x390x10</text>
<polyline points="343.80,63.60 390.00,63.60 404.30,98.80" fill="none" stroke="#333" stroke-width="0.5" />
<text transform="translate(345.80,75.55) scale(0.1)" font-size="29.5" text-anchor="start" font-weight="bold" fill="#111" stroke="#111" stroke-width="2.2" textLength="228.0" lengthAdjust="spacingAndGlyphs">16 PERNI &#216;12</text>
<text transform="translate(340.80,79.15) scale(0.1)" font-size="29.5" text-anchor="start" font-weight="bold" fill="#111" stroke="#111" stroke-width="2.2" textLength="278.0" lengthAdjust="spacingAndGlyphs">Fe510 L=390mm</text>
<polyline points="345.80,75.50 369.30,75.50 382.10,102.10" fill="none" stroke="#333" stroke-width="0.5" />
<text transform="translate(345.80,196.95) scale(0.1)" font-size="29.5" text-anchor="start" font-weight="bold" fill="#111" stroke="#111" stroke-width="2.2" textLength="275.0" lengthAdjust="spacingAndGlyphs">4+4 PERNI &#216;12</text>
<text transform="translate(344.20,200.55) scale(0.1)" font-size="29.5" text-anchor="start" font-weight="bold" fill="#111" stroke="#111" stroke-width="2.2" textLength="291.0" lengthAdjust="spacingAndGlyphs">Fe510 L=170mm</text>
<line x1="345.80" y1="196.90" x2="374.80" y2="196.90" stroke="#333" stroke-width="0.5" />
<line x1="374.80" y1="196.90" x2="387.80" y2="144.90" stroke="#333" stroke-width="0.5" />
<line x1="374.80" y1="196.90" x2="389.60" y2="152.90" stroke="#333" stroke-width="0.5" />
<text transform="translate(473.80,182.00) scale(0.1)" font-size="32.0" text-anchor="start" font-weight="bold" fill="#111" stroke="#111" stroke-width="2.2" textLength="44.0" lengthAdjust="spacingAndGlyphs">2B</text>
<line x1="468.60" y1="182.40" x2="485.00" y2="182.40" stroke="#333" stroke-width="0.5" />
<polygon points="478.70,178.40 483.00,180.80 478.70,183.20" fill="#222" stroke="#222" stroke-width="0.3" />
<line x1="468.60" y1="182.40" x2="445.60" y2="142.40" stroke="#333" stroke-width="0.5" />
<text transform="translate(475.20,201.35) scale(0.1)" font-size="29.5" text-anchor="start" font-weight="bold" fill="#111" stroke="#111" stroke-width="2.2" textLength="340.0" lengthAdjust="spacingAndGlyphs">PIASTRA 750x450x10</text>
<polyline points="509.20,201.30 472.20,201.30 446.40,143.50" fill="none" stroke="#333" stroke-width="0.5" />
<text transform="translate(527.40,192.25) scale(0.1)" font-size="29.5" text-anchor="start" font-weight="bold" fill="#111" stroke="#111" stroke-width="2.2" textLength="264.0" lengthAdjust="spacingAndGlyphs">TRAVE IN LEGNO</text>
<polyline points="553.90,192.20 524.80,192.20 513.30,167.60" fill="none" stroke="#333" stroke-width="0.5" />
</g>
<g id="sezione-trave">
<g transform="translate(610.1,101.6) rotate(8.6)">
<polygon points="0.00,0.00 60.00,0.00 60.00,51.00 39.40,51.00 39.40,85.00 21.00,85.00 21.00,51.00 0.00,51.00" fill="#dcdcdc" stroke="none" stroke-width="0" />
<line x1="0.00" y1="5.67" x2="60.00" y2="5.67" stroke="#666" stroke-width="0.5" />
<line x1="0.00" y1="11.33" x2="60.00" y2="11.33" stroke="#666" stroke-width="0.5" />
<line x1="0.00" y1="17.00" x2="60.00" y2="17.00" stroke="#666" stroke-width="0.5" />
<line x1="0.00" y1="22.67" x2="60.00" y2="22.67" stroke="#666" stroke-width="0.5" />
<line x1="0.00" y1="28.33" x2="60.00" y2="28.33" stroke="#666" stroke-width="0.5" />
<line x1="0.00" y1="34.00" x2="60.00" y2="34.00" stroke="#666" stroke-width="0.5" />
<line x1="0.00" y1="39.67" x2="60.00" y2="39.67" stroke="#666" stroke-width="0.5" />
<line x1="0.00" y1="45.33" x2="60.00" y2="45.33" stroke="#666" stroke-width="0.5" />
<line x1="21.00" y1="51.00" x2="39.40" y2="51.00" stroke="#666" stroke-width="0.5" />
<line x1="21.00" y1="56.67" x2="39.40" y2="56.67" stroke="#666" stroke-width="0.5" />
<line x1="21.00" y1="62.33" x2="39.40" y2="62.33" stroke="#666" stroke-width="0.5" />
<line x1="21.00" y1="68.00" x2="39.40" y2="68.00" stroke="#666" stroke-width="0.5" />
<line x1="21.00" y1="73.67" x2="39.40" y2="73.67" stroke="#666" stroke-width="0.5" />
<line x1="21.00" y1="79.33" x2="39.40" y2="79.33" stroke="#666" stroke-width="0.5" />
<polygon points="0.00,0.00 60.00,0.00 60.00,51.00 39.40,51.00 39.40,85.00 21.00,85.00 21.00,51.00 0.00,51.00" fill="none" stroke="#2a2a2a" stroke-width="1.25" />
<line x1="30.00" y1="-7.50" x2="30.00" y2="116.00" stroke="#999" stroke-width="0.45" stroke-dasharray="6 1.2 0.8 1.2"/>
<line x1="74.00" y1="-1.50" x2="74.00" y2="86.50" stroke="#555" stroke-width="0.5" />
<line x1="81.50" y1="-1.50" x2="81.50" y2="86.50" stroke="#555" stroke-width="0.5" />
<line x1="61.00" y1="0.00" x2="83.00" y2="0.00" stroke="#777" stroke-width="0.45" />
<line x1="61.00" y1="51.00" x2="76.00" y2="51.00" stroke="#777" stroke-width="0.45" />
<line x1="40.40" y1="85.00" x2="83.00" y2="85.00" stroke="#777" stroke-width="0.45" />
<line x1="73.15" y1="0.85" x2="74.85" y2="-0.85" stroke="#444" stroke-width="0.6" />
<line x1="73.15" y1="51.85" x2="74.85" y2="50.15" stroke="#444" stroke-width="0.6" />
<line x1="73.15" y1="85.85" x2="74.85" y2="84.15" stroke="#444" stroke-width="0.6" />
<line x1="80.65" y1="0.85" x2="82.35" y2="-0.85" stroke="#444" stroke-width="0.6" />
<line x1="80.65" y1="85.85" x2="82.35" y2="84.15" stroke="#444" stroke-width="0.6" />
<text transform="translate(73.20,25.50) rotate(-90.00) scale(0.1)" font-size="29.0" text-anchor="middle" font-weight="bold" fill="#222" stroke="#222" stroke-width="3.0">557</text>
<text transform="translate(73.20,68.00) rotate(-90.00) scale(0.1)" font-size="29.0" text-anchor="middle" font-weight="bold" fill="#222" stroke="#222" stroke-width="3.0">300</text>
<text transform="translate(80.70,42.50) rotate(-90.00) scale(0.1)" font-size="29.0" text-anchor="middle" font-weight="bold" fill="#222" stroke="#222" stroke-width="3.0">857</text>
<line x1="-1.50" y1="95.90" x2="61.50" y2="95.90" stroke="#555" stroke-width="0.5" />
<line x1="-1.50" y1="104.00" x2="61.50" y2="104.00" stroke="#555" stroke-width="0.5" />
<line x1="0.00" y1="52.00" x2="0.00" y2="105.50" stroke="#777" stroke-width="0.45" />
<line x1="60.00" y1="52.00" x2="60.00" y2="105.50" stroke="#777" stroke-width="0.45" />
<line x1="21.00" y1="86.00" x2="21.00" y2="97.40" stroke="#777" stroke-width="0.45" />
<line x1="39.40" y1="86.00" x2="39.40" y2="97.40" stroke="#777" stroke-width="0.45" />
<line x1="-0.85" y1="96.75" x2="0.85" y2="95.05" stroke="#444" stroke-width="0.6" />
<line x1="20.15" y1="96.75" x2="21.85" y2="95.05" stroke="#444" stroke-width="0.6" />
<line x1="38.55" y1="96.75" x2="40.25" y2="95.05" stroke="#444" stroke-width="0.6" />
<line x1="59.15" y1="96.75" x2="60.85" y2="95.05" stroke="#444" stroke-width="0.6" />
<line x1="-0.85" y1="104.85" x2="0.85" y2="103.15" stroke="#444" stroke-width="0.6" />
<line x1="59.15" y1="104.85" x2="60.85" y2="103.15" stroke="#444" stroke-width="0.6" />
<text transform="translate(10.50,95.00) scale(0.1)" font-size="29.0" text-anchor="middle" font-weight="bold" fill="#222" stroke="#222" stroke-width="3.0">195</text>
<text transform="translate(30.20,95.00) scale(0.1)" font-size="29.0" text-anchor="middle" font-weight="bold" fill="#222" stroke="#222" stroke-width="3.0">170</text>
<text transform="translate(49.70,95.00) scale(0.1)" font-size="29.0" text-anchor="middle" font-weight="bold" fill="#222" stroke="#222" stroke-width="3.0">195</text>
<text transform="translate(30.00,103.10) scale(0.1)" font-size="29.0" text-anchor="middle" font-weight="bold" fill="#222" stroke="#222" stroke-width="3.0">560</text>
</g></g>
</svg>
</body></html>
